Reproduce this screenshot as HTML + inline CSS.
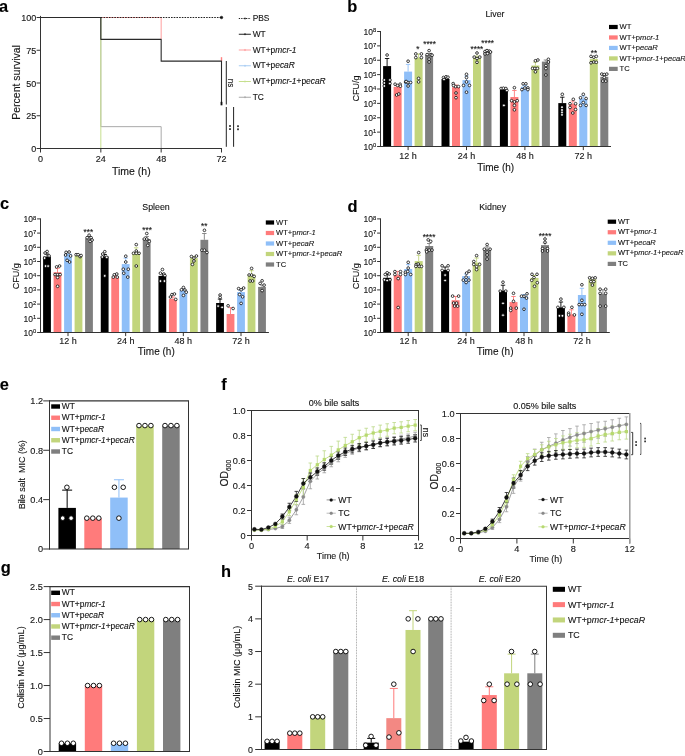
<!DOCTYPE html>
<html><head><meta charset="utf-8"><title>Figure</title>
<style>
html,body{margin:0;padding:0;background:#fff;overflow:hidden;}
svg{display:block;will-change:transform;}
text{font-family:"Liberation Sans",sans-serif;stroke:currentColor;stroke-width:0.12px;}
</style></head>
<body>
<svg width="685" height="756" viewBox="0 0 685 756">
<rect x="0" y="0" width="685" height="756" fill="#fff"/>
<text x="-0.9" y="11.6" font-size="16.4" font-weight="bold" fill="#000">a</text>
<polyline points="100.83,17.5 100.83,126.66 161.17,126.66 161.17,148.5" fill="none" stroke="#a9a9a9" stroke-width="1" stroke-linejoin="round"/>
<polyline points="100.83,17.5 100.83,148.5" fill="none" stroke="#c6df8e" stroke-width="1" stroke-linejoin="round"/>
<polyline points="100.83,17.5 161.17,17.5 161.17,39.34" fill="none" stroke="#ff9f9f" stroke-width="1" stroke-linejoin="round"/>
<line x1="221.5" y1="57.16" x2="221.5" y2="61.16" stroke="#ff8080" stroke-width="1.4"/>
<polyline points="40.5,17.5 100.83,17.5 100.83,39.34 161.17,39.34 161.17,61.16 221.5,61.16 221.5,104.84" fill="none" stroke="#2a2a2a" stroke-width="1.1" stroke-linejoin="round"/>
<rect x="220.6" y="101.84" width="1.8" height="3.5" fill="#111"/>
<line x1="100.83" y1="17.5" x2="221.5" y2="17.5" stroke="#222" stroke-width="1" stroke-dasharray="1.6 1.1"/>
<circle cx="221.5" cy="17.5" r="1.3" fill="#111" stroke="#111" stroke-width="0.5"/>
<line x1="40.5" y1="15.9" x2="40.5" y2="149" stroke="#333333" stroke-width="1"/>
<line x1="40" y1="148.5" x2="222" y2="148.5" stroke="#333333" stroke-width="1.1"/>
<line x1="36.6" y1="148.5" x2="40.5" y2="148.5" stroke="#333333" stroke-width="1"/>
<text x="36.2" y="152.1" font-size="9" text-anchor="end" fill="#1a1a1a">0</text>
<line x1="36.6" y1="115.75" x2="40.5" y2="115.75" stroke="#333333" stroke-width="1"/>
<text x="36.2" y="119.35" font-size="9" text-anchor="end" fill="#1a1a1a">25</text>
<line x1="36.6" y1="83" x2="40.5" y2="83" stroke="#333333" stroke-width="1"/>
<text x="36.2" y="86.6" font-size="9" text-anchor="end" fill="#1a1a1a">50</text>
<line x1="36.6" y1="50.25" x2="40.5" y2="50.25" stroke="#333333" stroke-width="1"/>
<text x="36.2" y="53.85" font-size="9" text-anchor="end" fill="#1a1a1a">75</text>
<line x1="36.6" y1="17.5" x2="40.5" y2="17.5" stroke="#333333" stroke-width="1"/>
<text x="36.2" y="21.1" font-size="9" text-anchor="end" fill="#1a1a1a">100</text>
<line x1="40.5" y1="148.5" x2="40.5" y2="152.5" stroke="#333333" stroke-width="1"/>
<text x="40.5" y="162.4" font-size="9" text-anchor="middle" fill="#1a1a1a">0</text>
<line x1="100.83" y1="148.5" x2="100.83" y2="152.5" stroke="#333333" stroke-width="1"/>
<text x="100.83" y="162.4" font-size="9" text-anchor="middle" fill="#1a1a1a">24</text>
<line x1="161.17" y1="148.5" x2="161.17" y2="152.5" stroke="#333333" stroke-width="1"/>
<text x="161.17" y="162.4" font-size="9" text-anchor="middle" fill="#1a1a1a">48</text>
<line x1="221.5" y1="148.5" x2="221.5" y2="152.5" stroke="#333333" stroke-width="1"/>
<text x="221.5" y="162.4" font-size="9" text-anchor="middle" fill="#1a1a1a">72</text>
<text x="131.3" y="174.6" font-size="10.5" text-anchor="middle" fill="#1a1a1a">Time (h)</text>
<text x="20.2" y="82.4" font-size="10.5" text-anchor="middle" fill="#1a1a1a" transform="rotate(-90 20.2 82.4)">Percent survival</text>
<line x1="226.3" y1="61" x2="226.3" y2="104.5" stroke="#222" stroke-width="1"/>
<text x="228" y="83" font-size="8.2" text-anchor="middle" fill="#1a1a1a" transform="rotate(90 228 83)">ns</text>
<line x1="226.3" y1="107" x2="226.3" y2="146.8" stroke="#222" stroke-width="1"/>
<line x1="233.6" y1="107" x2="233.6" y2="146.8" stroke="#222" stroke-width="1"/>
<rect x="229.1" y="125.1" width="1.8" height="1.8" fill="#333"/>
<rect x="229.1" y="128.2" width="1.8" height="1.8" fill="#333"/>
<rect x="237.1" y="125.3" width="1.8" height="1.8" fill="#333"/>
<rect x="237.1" y="128.4" width="1.8" height="1.8" fill="#333"/>
<line x1="238.8" y1="18.5" x2="250.9" y2="18.5" stroke="#222" stroke-width="1" stroke-dasharray="1.3 1.1"/>
<circle cx="245" cy="18.5" r="0.8" fill="#222" stroke="#222" stroke-width="0.3"/>
<text x="252.7" y="21" font-size="8.4" fill="#1a1a1a">PBS</text>
<line x1="238.8" y1="34.25" x2="250.9" y2="34.25" stroke="#222" stroke-width="1"/>
<circle cx="245" cy="34.25" r="0.8" fill="#222" stroke="#222" stroke-width="0.3"/>
<text x="252.7" y="36.75" font-size="8.4" fill="#1a1a1a">WT</text>
<line x1="238.8" y1="50" x2="250.9" y2="50" stroke="#ff9f9f" stroke-width="1"/>
<circle cx="245" cy="50" r="0.8" fill="#ff9f9f" stroke="#ff9f9f" stroke-width="0.3"/>
<text x="252.7" y="52.5" font-size="8.4" fill="#1a1a1a">WT+p<tspan font-style="italic">mcr-1</tspan></text>
<line x1="238.8" y1="65.75" x2="250.9" y2="65.75" stroke="#a9cdf3" stroke-width="1"/>
<circle cx="245" cy="65.75" r="0.8" fill="#a9cdf3" stroke="#a9cdf3" stroke-width="0.3"/>
<text x="252.7" y="68.25" font-size="8.4" fill="#1a1a1a">WT+p<tspan font-style="italic">ecaR</tspan></text>
<line x1="238.8" y1="81.5" x2="250.9" y2="81.5" stroke="#c6df8e" stroke-width="1"/>
<circle cx="245" cy="81.5" r="0.8" fill="#c6df8e" stroke="#c6df8e" stroke-width="0.3"/>
<text x="252.7" y="84" font-size="8.4" fill="#1a1a1a">WT+p<tspan font-style="italic">mcr-1</tspan>+p<tspan font-style="italic">ecaR</tspan></text>
<line x1="238.8" y1="97.25" x2="250.9" y2="97.25" stroke="#a9a9a9" stroke-width="1"/>
<circle cx="245" cy="97.25" r="0.8" fill="#a9a9a9" stroke="#a9a9a9" stroke-width="0.3"/>
<text x="252.7" y="99.75" font-size="8.4" fill="#1a1a1a">TC</text>
<text x="347.3" y="11.8" font-size="16.4" font-weight="bold" fill="#000">b</text>
<rect x="383.1" y="66.1" width="8" height="80.4" fill="#000000"/>
<rect x="393.6" y="86.8" width="8" height="59.7" fill="#ff7b7b"/>
<rect x="404.1" y="71.6" width="8" height="74.9" fill="#8fbff8"/>
<rect x="414.6" y="57.7" width="8" height="88.8" fill="#c2d57c"/>
<rect x="425.1" y="55" width="8" height="91.5" fill="#7f7f7f"/>
<rect x="441.5" y="79" width="8" height="67.5" fill="#000000"/>
<rect x="452" y="87.2" width="8" height="59.3" fill="#ff7b7b"/>
<rect x="462.5" y="80.1" width="8" height="66.4" fill="#8fbff8"/>
<rect x="473" y="57.1" width="8" height="89.4" fill="#c2d57c"/>
<rect x="483.5" y="51" width="8" height="95.5" fill="#7f7f7f"/>
<rect x="499.9" y="90" width="8" height="56.5" fill="#000000"/>
<rect x="510.4" y="97" width="8" height="49.5" fill="#ff7b7b"/>
<rect x="520.9" y="86.7" width="8" height="59.8" fill="#8fbff8"/>
<rect x="531.4" y="65.5" width="8" height="81" fill="#c2d57c"/>
<rect x="541.9" y="61.6" width="8" height="84.9" fill="#7f7f7f"/>
<rect x="558.3" y="103.1" width="8" height="43.4" fill="#000000"/>
<rect x="568.8" y="104" width="8" height="42.5" fill="#ff7b7b"/>
<rect x="579.3" y="98.4" width="8" height="48.1" fill="#8fbff8"/>
<rect x="589.8" y="58.9" width="8" height="87.6" fill="#c2d57c"/>
<rect x="600.3" y="76.8" width="8" height="69.7" fill="#7f7f7f"/>
<line x1="387.1" y1="66.1" x2="387.1" y2="58.5" stroke="#000000" stroke-width="0.9"/>
<line x1="384.9" y1="58.5" x2="389.3" y2="58.5" stroke="#000000" stroke-width="0.9"/>
<line x1="408.1" y1="71.6" x2="408.1" y2="64.4" stroke="#8fbff8" stroke-width="0.9"/>
<line x1="405.9" y1="64.4" x2="410.3" y2="64.4" stroke="#8fbff8" stroke-width="0.9"/>
<line x1="418.6" y1="57.7" x2="418.6" y2="54" stroke="#c2d57c" stroke-width="0.9"/>
<line x1="416.4" y1="54" x2="420.8" y2="54" stroke="#c2d57c" stroke-width="0.9"/>
<line x1="429.1" y1="55" x2="429.1" y2="53.5" stroke="#7f7f7f" stroke-width="0.9"/>
<line x1="426.9" y1="53.5" x2="431.3" y2="53.5" stroke="#7f7f7f" stroke-width="0.9"/>
<line x1="397.6" y1="86.8" x2="397.6" y2="85" stroke="#ff7b7b" stroke-width="0.9"/>
<line x1="395.4" y1="85" x2="399.8" y2="85" stroke="#ff7b7b" stroke-width="0.9"/>
<line x1="445.5" y1="79" x2="445.5" y2="77.5" stroke="#000000" stroke-width="0.9"/>
<line x1="443.3" y1="77.5" x2="447.7" y2="77.5" stroke="#000000" stroke-width="0.9"/>
<line x1="456" y1="87.2" x2="456" y2="85" stroke="#ff7b7b" stroke-width="0.9"/>
<line x1="453.8" y1="85" x2="458.2" y2="85" stroke="#ff7b7b" stroke-width="0.9"/>
<line x1="466.5" y1="80.1" x2="466.5" y2="76" stroke="#8fbff8" stroke-width="0.9"/>
<line x1="464.3" y1="76" x2="468.7" y2="76" stroke="#8fbff8" stroke-width="0.9"/>
<line x1="477" y1="57.1" x2="477" y2="56" stroke="#c2d57c" stroke-width="0.9"/>
<line x1="474.8" y1="56" x2="479.2" y2="56" stroke="#c2d57c" stroke-width="0.9"/>
<line x1="487.5" y1="51" x2="487.5" y2="50" stroke="#7f7f7f" stroke-width="0.9"/>
<line x1="485.3" y1="50" x2="489.7" y2="50" stroke="#7f7f7f" stroke-width="0.9"/>
<line x1="503.9" y1="90" x2="503.9" y2="89" stroke="#000000" stroke-width="0.9"/>
<line x1="501.7" y1="89" x2="506.1" y2="89" stroke="#000000" stroke-width="0.9"/>
<line x1="514.4" y1="97" x2="514.4" y2="90.5" stroke="#ff7b7b" stroke-width="0.9"/>
<line x1="512.2" y1="90.5" x2="516.6" y2="90.5" stroke="#ff7b7b" stroke-width="0.9"/>
<line x1="524.9" y1="86.7" x2="524.9" y2="85.5" stroke="#8fbff8" stroke-width="0.9"/>
<line x1="522.7" y1="85.5" x2="527.1" y2="85.5" stroke="#8fbff8" stroke-width="0.9"/>
<line x1="535.4" y1="65.5" x2="535.4" y2="62.2" stroke="#c2d57c" stroke-width="0.9"/>
<line x1="533.2" y1="62.2" x2="537.6" y2="62.2" stroke="#c2d57c" stroke-width="0.9"/>
<line x1="545.9" y1="61.6" x2="545.9" y2="60" stroke="#7f7f7f" stroke-width="0.9"/>
<line x1="543.7" y1="60" x2="548.1" y2="60" stroke="#7f7f7f" stroke-width="0.9"/>
<line x1="562.3" y1="103.1" x2="562.3" y2="97.2" stroke="#000000" stroke-width="0.9"/>
<line x1="560.1" y1="97.2" x2="564.5" y2="97.2" stroke="#000000" stroke-width="0.9"/>
<line x1="572.8" y1="104" x2="572.8" y2="101" stroke="#ff7b7b" stroke-width="0.9"/>
<line x1="570.6" y1="101" x2="575" y2="101" stroke="#ff7b7b" stroke-width="0.9"/>
<line x1="583.3" y1="98.4" x2="583.3" y2="96" stroke="#8fbff8" stroke-width="0.9"/>
<line x1="581.1" y1="96" x2="585.5" y2="96" stroke="#8fbff8" stroke-width="0.9"/>
<line x1="593.8" y1="58.9" x2="593.8" y2="57.5" stroke="#c2d57c" stroke-width="0.9"/>
<line x1="591.6" y1="57.5" x2="596" y2="57.5" stroke="#c2d57c" stroke-width="0.9"/>
<line x1="604.3" y1="76.8" x2="604.3" y2="75.5" stroke="#7f7f7f" stroke-width="0.9"/>
<line x1="602.1" y1="75.5" x2="606.5" y2="75.5" stroke="#7f7f7f" stroke-width="0.9"/>
<circle cx="387.1" cy="55" r="1.35" fill="#fff" stroke="#000" stroke-width="0.75"/>
<circle cx="384.3" cy="80" r="1.35" fill="#fff" stroke="#000" stroke-width="0.75"/>
<circle cx="389.9" cy="80" r="1.35" fill="#fff" stroke="#000" stroke-width="0.75"/>
<circle cx="384.3" cy="83" r="1.35" fill="#fff" stroke="#000" stroke-width="0.75"/>
<circle cx="389.9" cy="83.5" r="1.35" fill="#fff" stroke="#000" stroke-width="0.75"/>
<circle cx="384.3" cy="86" r="1.35" fill="#fff" stroke="#000" stroke-width="0.75"/>
<circle cx="395.1" cy="84.2" r="1.35" fill="#fff" stroke="#000" stroke-width="0.75"/>
<circle cx="397.6" cy="85.5" r="1.35" fill="#fff" stroke="#000" stroke-width="0.75"/>
<circle cx="400.1" cy="84.2" r="1.35" fill="#fff" stroke="#000" stroke-width="0.75"/>
<circle cx="400.4" cy="86.2" r="1.35" fill="#fff" stroke="#000" stroke-width="0.75"/>
<circle cx="396.6" cy="95" r="1.35" fill="#fff" stroke="#000" stroke-width="0.75"/>
<circle cx="398.8" cy="94" r="1.35" fill="#fff" stroke="#000" stroke-width="0.75"/>
<circle cx="408.1" cy="61.2" r="1.35" fill="#fff" stroke="#000" stroke-width="0.75"/>
<circle cx="405.6" cy="82" r="1.35" fill="#fff" stroke="#000" stroke-width="0.75"/>
<circle cx="407.9" cy="82.5" r="1.35" fill="#fff" stroke="#000" stroke-width="0.75"/>
<circle cx="410.6" cy="82.5" r="1.35" fill="#fff" stroke="#000" stroke-width="0.75"/>
<circle cx="408.1" cy="86" r="1.35" fill="#fff" stroke="#000" stroke-width="0.75"/>
<circle cx="406.1" cy="81.5" r="1.35" fill="#fff" stroke="#000" stroke-width="0.75"/>
<circle cx="415.8" cy="53.9" r="1.35" fill="#fff" stroke="#000" stroke-width="0.75"/>
<circle cx="421.4" cy="53.9" r="1.35" fill="#fff" stroke="#000" stroke-width="0.75"/>
<circle cx="415.8" cy="57.6" r="1.35" fill="#fff" stroke="#000" stroke-width="0.75"/>
<circle cx="421.4" cy="57.6" r="1.35" fill="#fff" stroke="#000" stroke-width="0.75"/>
<circle cx="418.6" cy="78.4" r="1.35" fill="#fff" stroke="#000" stroke-width="0.75"/>
<circle cx="418.6" cy="81.9" r="1.35" fill="#fff" stroke="#000" stroke-width="0.75"/>
<circle cx="429.1" cy="50.6" r="1.35" fill="#fff" stroke="#000" stroke-width="0.75"/>
<circle cx="427.1" cy="54.6" r="1.35" fill="#fff" stroke="#000" stroke-width="0.75"/>
<circle cx="431.1" cy="54.6" r="1.35" fill="#fff" stroke="#000" stroke-width="0.75"/>
<circle cx="429.1" cy="59.1" r="1.35" fill="#fff" stroke="#000" stroke-width="0.75"/>
<circle cx="429.1" cy="62" r="1.35" fill="#fff" stroke="#000" stroke-width="0.75"/>
<circle cx="432.1" cy="55.2" r="1.35" fill="#fff" stroke="#000" stroke-width="0.75"/>
<circle cx="443.5" cy="77.5" r="1.35" fill="#fff" stroke="#000" stroke-width="0.75"/>
<circle cx="446" cy="76.8" r="1.35" fill="#fff" stroke="#000" stroke-width="0.75"/>
<circle cx="448" cy="77.2" r="1.35" fill="#fff" stroke="#000" stroke-width="0.75"/>
<circle cx="444" cy="79.5" r="1.35" fill="#fff" stroke="#000" stroke-width="0.75"/>
<circle cx="453.2" cy="83.6" r="1.35" fill="#fff" stroke="#000" stroke-width="0.75"/>
<circle cx="455.5" cy="86.6" r="1.35" fill="#fff" stroke="#000" stroke-width="0.75"/>
<circle cx="458.5" cy="86.6" r="1.35" fill="#fff" stroke="#000" stroke-width="0.75"/>
<circle cx="456" cy="93" r="1.35" fill="#fff" stroke="#000" stroke-width="0.75"/>
<circle cx="456" cy="97.7" r="1.35" fill="#fff" stroke="#000" stroke-width="0.75"/>
<circle cx="453.5" cy="85.5" r="1.35" fill="#fff" stroke="#000" stroke-width="0.75"/>
<circle cx="466.5" cy="74.3" r="1.35" fill="#fff" stroke="#000" stroke-width="0.75"/>
<circle cx="466.5" cy="77.6" r="1.35" fill="#fff" stroke="#000" stroke-width="0.75"/>
<circle cx="466.5" cy="81.9" r="1.35" fill="#fff" stroke="#000" stroke-width="0.75"/>
<circle cx="463.5" cy="85.4" r="1.35" fill="#fff" stroke="#000" stroke-width="0.75"/>
<circle cx="469.5" cy="85.4" r="1.35" fill="#fff" stroke="#000" stroke-width="0.75"/>
<circle cx="466.5" cy="92.2" r="1.35" fill="#fff" stroke="#000" stroke-width="0.75"/>
<circle cx="477" cy="53" r="1.35" fill="#fff" stroke="#000" stroke-width="0.75"/>
<circle cx="474.2" cy="57.1" r="1.35" fill="#fff" stroke="#000" stroke-width="0.75"/>
<circle cx="477" cy="58.5" r="1.35" fill="#fff" stroke="#000" stroke-width="0.75"/>
<circle cx="479.8" cy="57.1" r="1.35" fill="#fff" stroke="#000" stroke-width="0.75"/>
<circle cx="477" cy="62.3" r="1.35" fill="#fff" stroke="#000" stroke-width="0.75"/>
<circle cx="485" cy="51.5" r="1.35" fill="#fff" stroke="#000" stroke-width="0.75"/>
<circle cx="487" cy="50.6" r="1.35" fill="#fff" stroke="#000" stroke-width="0.75"/>
<circle cx="489.5" cy="51.2" r="1.35" fill="#fff" stroke="#000" stroke-width="0.75"/>
<circle cx="485" cy="53.9" r="1.35" fill="#fff" stroke="#000" stroke-width="0.75"/>
<circle cx="487.5" cy="53.5" r="1.35" fill="#fff" stroke="#000" stroke-width="0.75"/>
<circle cx="490.5" cy="52" r="1.35" fill="#fff" stroke="#000" stroke-width="0.75"/>
<circle cx="501.1" cy="88.5" r="1.35" fill="#fff" stroke="#000" stroke-width="0.75"/>
<circle cx="503.4" cy="88.2" r="1.35" fill="#fff" stroke="#000" stroke-width="0.75"/>
<circle cx="505.9" cy="88.5" r="1.35" fill="#fff" stroke="#000" stroke-width="0.75"/>
<circle cx="506.9" cy="90.5" r="1.35" fill="#fff" stroke="#000" stroke-width="0.75"/>
<circle cx="503.9" cy="105.4" r="1.35" fill="#fff" stroke="#000" stroke-width="0.75"/>
<circle cx="514.4" cy="87.7" r="1.35" fill="#fff" stroke="#000" stroke-width="0.75"/>
<circle cx="511.6" cy="100.7" r="1.35" fill="#fff" stroke="#000" stroke-width="0.75"/>
<circle cx="514.4" cy="101.9" r="1.35" fill="#fff" stroke="#000" stroke-width="0.75"/>
<circle cx="517.2" cy="100.7" r="1.35" fill="#fff" stroke="#000" stroke-width="0.75"/>
<circle cx="514.4" cy="105.4" r="1.35" fill="#fff" stroke="#000" stroke-width="0.75"/>
<circle cx="514.4" cy="109.8" r="1.35" fill="#fff" stroke="#000" stroke-width="0.75"/>
<circle cx="523.1" cy="83.8" r="1.35" fill="#fff" stroke="#000" stroke-width="0.75"/>
<circle cx="525.9" cy="83.8" r="1.35" fill="#fff" stroke="#000" stroke-width="0.75"/>
<circle cx="521.9" cy="89.6" r="1.35" fill="#fff" stroke="#000" stroke-width="0.75"/>
<circle cx="524.9" cy="88" r="1.35" fill="#fff" stroke="#000" stroke-width="0.75"/>
<circle cx="527.9" cy="87.9" r="1.35" fill="#fff" stroke="#000" stroke-width="0.75"/>
<circle cx="527.9" cy="89.6" r="1.35" fill="#fff" stroke="#000" stroke-width="0.75"/>
<circle cx="535.4" cy="60.8" r="1.35" fill="#fff" stroke="#000" stroke-width="0.75"/>
<circle cx="537.9" cy="60" r="1.35" fill="#fff" stroke="#000" stroke-width="0.75"/>
<circle cx="532.6" cy="68.4" r="1.35" fill="#fff" stroke="#000" stroke-width="0.75"/>
<circle cx="534.9" cy="68.4" r="1.35" fill="#fff" stroke="#000" stroke-width="0.75"/>
<circle cx="537.4" cy="68.4" r="1.35" fill="#fff" stroke="#000" stroke-width="0.75"/>
<circle cx="535.4" cy="71.8" r="1.35" fill="#fff" stroke="#000" stroke-width="0.75"/>
<circle cx="548.4" cy="59.3" r="1.35" fill="#fff" stroke="#000" stroke-width="0.75"/>
<circle cx="548.4" cy="62" r="1.35" fill="#fff" stroke="#000" stroke-width="0.75"/>
<circle cx="545.9" cy="65.5" r="1.35" fill="#fff" stroke="#000" stroke-width="0.75"/>
<circle cx="545.9" cy="68.6" r="1.35" fill="#fff" stroke="#000" stroke-width="0.75"/>
<circle cx="545.9" cy="75" r="1.35" fill="#fff" stroke="#000" stroke-width="0.75"/>
<circle cx="562.3" cy="94.3" r="1.35" fill="#fff" stroke="#000" stroke-width="0.75"/>
<circle cx="573.3" cy="99.3" r="1.35" fill="#fff" stroke="#000" stroke-width="0.75"/>
<circle cx="570" cy="103.7" r="1.35" fill="#fff" stroke="#000" stroke-width="0.75"/>
<circle cx="575.6" cy="103.7" r="1.35" fill="#fff" stroke="#000" stroke-width="0.75"/>
<circle cx="570" cy="107.5" r="1.35" fill="#fff" stroke="#000" stroke-width="0.75"/>
<circle cx="575.6" cy="109.5" r="1.35" fill="#fff" stroke="#000" stroke-width="0.75"/>
<circle cx="572.8" cy="113" r="1.35" fill="#fff" stroke="#000" stroke-width="0.75"/>
<circle cx="583.3" cy="94.3" r="1.35" fill="#fff" stroke="#000" stroke-width="0.75"/>
<circle cx="580.5" cy="97.8" r="1.35" fill="#fff" stroke="#000" stroke-width="0.75"/>
<circle cx="586.1" cy="98.5" r="1.35" fill="#fff" stroke="#000" stroke-width="0.75"/>
<circle cx="583.3" cy="102.5" r="1.35" fill="#fff" stroke="#000" stroke-width="0.75"/>
<circle cx="580.5" cy="105.4" r="1.35" fill="#fff" stroke="#000" stroke-width="0.75"/>
<circle cx="586.1" cy="105.4" r="1.35" fill="#fff" stroke="#000" stroke-width="0.75"/>
<circle cx="591" cy="56.4" r="1.35" fill="#fff" stroke="#000" stroke-width="0.75"/>
<circle cx="593.8" cy="57.2" r="1.35" fill="#fff" stroke="#000" stroke-width="0.75"/>
<circle cx="596.3" cy="56.4" r="1.35" fill="#fff" stroke="#000" stroke-width="0.75"/>
<circle cx="591" cy="62.8" r="1.35" fill="#fff" stroke="#000" stroke-width="0.75"/>
<circle cx="593.8" cy="62" r="1.35" fill="#fff" stroke="#000" stroke-width="0.75"/>
<circle cx="596.3" cy="62.3" r="1.35" fill="#fff" stroke="#000" stroke-width="0.75"/>
<circle cx="601.8" cy="74.1" r="1.35" fill="#fff" stroke="#000" stroke-width="0.75"/>
<circle cx="604.3" cy="74.5" r="1.35" fill="#fff" stroke="#000" stroke-width="0.75"/>
<circle cx="606.8" cy="74.1" r="1.35" fill="#fff" stroke="#000" stroke-width="0.75"/>
<circle cx="604.3" cy="77.4" r="1.35" fill="#fff" stroke="#000" stroke-width="0.75"/>
<circle cx="602.8" cy="81.1" r="1.35" fill="#fff" stroke="#000" stroke-width="0.75"/>
<circle cx="605.8" cy="81.1" r="1.35" fill="#fff" stroke="#000" stroke-width="0.75"/>
<line x1="380.5" y1="31" x2="380.5" y2="147" stroke="#333333" stroke-width="1"/>
<line x1="380" y1="146.5" x2="611" y2="146.5" stroke="#333333" stroke-width="1.1"/>
<line x1="377.1" y1="146.5" x2="380.5" y2="146.5" stroke="#333333" stroke-width="1"/>
<text x="372.98" y="149.9" font-size="8.5" text-anchor="end" fill="#1a1a1a">10</text>
<text x="373.08" y="147.4" font-size="5.8" fill="#1a1a1a">0</text>
<line x1="377.1" y1="132.12" x2="380.5" y2="132.12" stroke="#333333" stroke-width="1"/>
<text x="372.98" y="135.53" font-size="8.5" text-anchor="end" fill="#1a1a1a">10</text>
<text x="373.08" y="133.03" font-size="5.8" fill="#1a1a1a">1</text>
<line x1="377.1" y1="117.75" x2="380.5" y2="117.75" stroke="#333333" stroke-width="1"/>
<text x="372.98" y="121.15" font-size="8.5" text-anchor="end" fill="#1a1a1a">10</text>
<text x="373.08" y="118.65" font-size="5.8" fill="#1a1a1a">2</text>
<line x1="377.1" y1="103.38" x2="380.5" y2="103.38" stroke="#333333" stroke-width="1"/>
<text x="372.98" y="106.78" font-size="8.5" text-anchor="end" fill="#1a1a1a">10</text>
<text x="373.08" y="104.28" font-size="5.8" fill="#1a1a1a">3</text>
<line x1="377.1" y1="89" x2="380.5" y2="89" stroke="#333333" stroke-width="1"/>
<text x="372.98" y="92.4" font-size="8.5" text-anchor="end" fill="#1a1a1a">10</text>
<text x="373.08" y="89.9" font-size="5.8" fill="#1a1a1a">4</text>
<line x1="377.1" y1="74.62" x2="380.5" y2="74.62" stroke="#333333" stroke-width="1"/>
<text x="372.98" y="78.03" font-size="8.5" text-anchor="end" fill="#1a1a1a">10</text>
<text x="373.08" y="75.53" font-size="5.8" fill="#1a1a1a">5</text>
<line x1="377.1" y1="60.25" x2="380.5" y2="60.25" stroke="#333333" stroke-width="1"/>
<text x="372.98" y="63.65" font-size="8.5" text-anchor="end" fill="#1a1a1a">10</text>
<text x="373.08" y="61.15" font-size="5.8" fill="#1a1a1a">6</text>
<line x1="377.1" y1="45.88" x2="380.5" y2="45.88" stroke="#333333" stroke-width="1"/>
<text x="372.98" y="49.27" font-size="8.5" text-anchor="end" fill="#1a1a1a">10</text>
<text x="373.08" y="46.77" font-size="5.8" fill="#1a1a1a">7</text>
<line x1="377.1" y1="31.5" x2="380.5" y2="31.5" stroke="#333333" stroke-width="1"/>
<text x="372.98" y="34.9" font-size="8.5" text-anchor="end" fill="#1a1a1a">10</text>
<text x="373.08" y="32.4" font-size="5.8" fill="#1a1a1a">8</text>
<line x1="408.1" y1="146.5" x2="408.1" y2="150.1" stroke="#333333" stroke-width="1"/>
<text x="408.1" y="159.1" font-size="9" text-anchor="middle" fill="#1a1a1a">12 h</text>
<line x1="466.5" y1="146.5" x2="466.5" y2="150.1" stroke="#333333" stroke-width="1"/>
<text x="466.5" y="159.1" font-size="9" text-anchor="middle" fill="#1a1a1a">24 h</text>
<line x1="524.9" y1="146.5" x2="524.9" y2="150.1" stroke="#333333" stroke-width="1"/>
<text x="524.9" y="159.1" font-size="9" text-anchor="middle" fill="#1a1a1a">48 h</text>
<line x1="583.3" y1="146.5" x2="583.3" y2="150.1" stroke="#333333" stroke-width="1"/>
<text x="583.3" y="159.1" font-size="9" text-anchor="middle" fill="#1a1a1a">72 h</text>
<text x="495.7" y="170.7" font-size="10" text-anchor="middle" fill="#1a1a1a">Time (h)</text>
<text x="359.2" y="88.6" font-size="9" text-anchor="middle" fill="#1a1a1a" transform="rotate(-90 359.2 88.6)">CFU/g</text>
<text x="495" y="16.6" font-size="8.8" text-anchor="middle" fill="#1a1a1a">Liver</text>
<text x="417.9" y="52.4" font-size="8.2" text-anchor="middle" fill="#222">*</text>
<text x="429.6" y="47.4" font-size="8.2" text-anchor="middle" fill="#222">****</text>
<text x="476.9" y="51.9" font-size="8.2" text-anchor="middle" fill="#222">****</text>
<text x="487.7" y="46.2" font-size="8.2" text-anchor="middle" fill="#222">****</text>
<text x="593.9" y="56.3" font-size="8.2" text-anchor="middle" fill="#222">**</text>
<rect x="609" y="24.9" width="8.7" height="4.2" fill="#000000"/>
<text x="619.6" y="29.1" font-size="7.6" fill="#1a1a1a">WT</text>
<rect x="609" y="35.37" width="8.7" height="4.2" fill="#ff7b7b"/>
<text x="619.6" y="39.57" font-size="7.6" fill="#1a1a1a">WT+p<tspan font-style="italic">mcr-1</tspan></text>
<rect x="609" y="45.84" width="8.7" height="4.2" fill="#8fbff8"/>
<text x="619.6" y="50.04" font-size="7.6" fill="#1a1a1a">WT+p<tspan font-style="italic">ecaR</tspan></text>
<rect x="609" y="56.31" width="8.7" height="4.2" fill="#c2d57c"/>
<text x="619.6" y="60.51" font-size="7.6" fill="#1a1a1a">WT+p<tspan font-style="italic">mcr-1</tspan>+p<tspan font-style="italic">ecaR</tspan></text>
<rect x="609" y="66.78" width="8.7" height="4.2" fill="#7f7f7f"/>
<text x="619.6" y="70.98" font-size="7.6" fill="#1a1a1a">TC</text>
<circle cx="562" cy="107.2" r="0.9" fill="#fff" stroke="#fff" stroke-width="0.2"/>
<circle cx="562" cy="110" r="0.9" fill="#fff" stroke="#fff" stroke-width="0.2"/>
<circle cx="562" cy="112.4" r="0.9" fill="#fff" stroke="#fff" stroke-width="0.2"/>
<circle cx="562" cy="114.8" r="0.9" fill="#fff" stroke="#fff" stroke-width="0.2"/>
<text x="-0.1" y="209.4" font-size="16.4" font-weight="bold" fill="#000">c</text>
<rect x="43.1" y="256.6" width="7.8" height="75.9" fill="#000000"/>
<rect x="53.6" y="272.2" width="7.8" height="60.3" fill="#ff7b7b"/>
<rect x="64.1" y="253.7" width="7.8" height="78.8" fill="#8fbff8"/>
<rect x="74.6" y="255.9" width="7.8" height="76.6" fill="#c2d57c"/>
<rect x="85.1" y="238.4" width="7.8" height="94.1" fill="#7f7f7f"/>
<rect x="100.77" y="256.5" width="7.8" height="76" fill="#000000"/>
<rect x="111.27" y="277.9" width="7.8" height="54.6" fill="#ff7b7b"/>
<rect x="121.77" y="264.1" width="7.8" height="68.4" fill="#8fbff8"/>
<rect x="132.27" y="252.1" width="7.8" height="80.4" fill="#c2d57c"/>
<rect x="142.77" y="239" width="7.8" height="93.5" fill="#7f7f7f"/>
<rect x="158.44" y="275.9" width="7.8" height="56.6" fill="#000000"/>
<rect x="168.94" y="298.9" width="7.8" height="33.6" fill="#ff7b7b"/>
<rect x="179.44" y="290.6" width="7.8" height="41.9" fill="#8fbff8"/>
<rect x="189.94" y="258.1" width="7.8" height="74.4" fill="#c2d57c"/>
<rect x="200.44" y="239.8" width="7.8" height="92.7" fill="#7f7f7f"/>
<rect x="216.11" y="303" width="7.8" height="29.5" fill="#000000"/>
<rect x="226.61" y="314" width="7.8" height="18.5" fill="#ff7b7b"/>
<rect x="237.11" y="292.1" width="7.8" height="40.4" fill="#8fbff8"/>
<rect x="247.61" y="274.6" width="7.8" height="57.9" fill="#c2d57c"/>
<rect x="258.11" y="286.9" width="7.8" height="45.6" fill="#7f7f7f"/>
<line x1="47" y1="256.6" x2="47" y2="254" stroke="#000000" stroke-width="0.9"/>
<line x1="44.8" y1="254" x2="49.2" y2="254" stroke="#000000" stroke-width="0.9"/>
<line x1="57.5" y1="272.2" x2="57.5" y2="268.3" stroke="#ff7b7b" stroke-width="0.9"/>
<line x1="55.3" y1="268.3" x2="59.7" y2="268.3" stroke="#ff7b7b" stroke-width="0.9"/>
<line x1="68" y1="253.7" x2="68" y2="252" stroke="#8fbff8" stroke-width="0.9"/>
<line x1="65.8" y1="252" x2="70.2" y2="252" stroke="#8fbff8" stroke-width="0.9"/>
<line x1="78.5" y1="255.9" x2="78.5" y2="254.5" stroke="#c2d57c" stroke-width="0.9"/>
<line x1="76.3" y1="254.5" x2="80.7" y2="254.5" stroke="#c2d57c" stroke-width="0.9"/>
<line x1="89" y1="238.4" x2="89" y2="236.5" stroke="#7f7f7f" stroke-width="0.9"/>
<line x1="86.8" y1="236.5" x2="91.2" y2="236.5" stroke="#7f7f7f" stroke-width="0.9"/>
<line x1="104.67" y1="256.5" x2="104.67" y2="254.5" stroke="#000000" stroke-width="0.9"/>
<line x1="102.47" y1="254.5" x2="106.87" y2="254.5" stroke="#000000" stroke-width="0.9"/>
<line x1="115.17" y1="277.9" x2="115.17" y2="276" stroke="#ff7b7b" stroke-width="0.9"/>
<line x1="112.97" y1="276" x2="117.37" y2="276" stroke="#ff7b7b" stroke-width="0.9"/>
<line x1="125.67" y1="264.1" x2="125.67" y2="258.1" stroke="#8fbff8" stroke-width="0.9"/>
<line x1="123.47" y1="258.1" x2="127.87" y2="258.1" stroke="#8fbff8" stroke-width="0.9"/>
<line x1="136.17" y1="252.1" x2="136.17" y2="247.8" stroke="#c2d57c" stroke-width="0.9"/>
<line x1="133.97" y1="247.8" x2="138.37" y2="247.8" stroke="#c2d57c" stroke-width="0.9"/>
<line x1="146.67" y1="239" x2="146.67" y2="236.5" stroke="#7f7f7f" stroke-width="0.9"/>
<line x1="144.47" y1="236.5" x2="148.87" y2="236.5" stroke="#7f7f7f" stroke-width="0.9"/>
<line x1="162.34" y1="275.9" x2="162.34" y2="273.5" stroke="#000000" stroke-width="0.9"/>
<line x1="160.14" y1="273.5" x2="164.54" y2="273.5" stroke="#000000" stroke-width="0.9"/>
<line x1="172.84" y1="298.9" x2="172.84" y2="297" stroke="#ff7b7b" stroke-width="0.9"/>
<line x1="170.64" y1="297" x2="175.04" y2="297" stroke="#ff7b7b" stroke-width="0.9"/>
<line x1="183.34" y1="290.6" x2="183.34" y2="289" stroke="#8fbff8" stroke-width="0.9"/>
<line x1="181.14" y1="289" x2="185.54" y2="289" stroke="#8fbff8" stroke-width="0.9"/>
<line x1="193.84" y1="258.1" x2="193.84" y2="256.5" stroke="#c2d57c" stroke-width="0.9"/>
<line x1="191.64" y1="256.5" x2="196.04" y2="256.5" stroke="#c2d57c" stroke-width="0.9"/>
<line x1="204.34" y1="239.8" x2="204.34" y2="233.5" stroke="#7f7f7f" stroke-width="0.9"/>
<line x1="202.14" y1="233.5" x2="206.54" y2="233.5" stroke="#7f7f7f" stroke-width="0.9"/>
<line x1="220.01" y1="303" x2="220.01" y2="299.1" stroke="#000000" stroke-width="0.9"/>
<line x1="217.81" y1="299.1" x2="222.21" y2="299.1" stroke="#000000" stroke-width="0.9"/>
<line x1="230.51" y1="314" x2="230.51" y2="307.6" stroke="#ff7b7b" stroke-width="0.9"/>
<line x1="228.31" y1="307.6" x2="232.71" y2="307.6" stroke="#ff7b7b" stroke-width="0.9"/>
<line x1="241.01" y1="292.1" x2="241.01" y2="290.5" stroke="#8fbff8" stroke-width="0.9"/>
<line x1="238.81" y1="290.5" x2="243.21" y2="290.5" stroke="#8fbff8" stroke-width="0.9"/>
<line x1="251.51" y1="274.6" x2="251.51" y2="270.7" stroke="#c2d57c" stroke-width="0.9"/>
<line x1="249.31" y1="270.7" x2="253.71" y2="270.7" stroke="#c2d57c" stroke-width="0.9"/>
<line x1="262.01" y1="286.9" x2="262.01" y2="285" stroke="#7f7f7f" stroke-width="0.9"/>
<line x1="259.81" y1="285" x2="264.21" y2="285" stroke="#7f7f7f" stroke-width="0.9"/>
<circle cx="47.1" cy="251.5" r="1.35" fill="#fff" stroke="#000" stroke-width="0.75"/>
<circle cx="45.1" cy="253" r="1.35" fill="#fff" stroke="#000" stroke-width="0.75"/>
<circle cx="49.1" cy="255.9" r="1.35" fill="#fff" stroke="#000" stroke-width="0.75"/>
<circle cx="44.6" cy="258.1" r="1.35" fill="#fff" stroke="#000" stroke-width="0.75"/>
<circle cx="45.6" cy="266.1" r="1.35" fill="#fff" stroke="#000" stroke-width="0.75"/>
<circle cx="48.1" cy="266.1" r="1.35" fill="#fff" stroke="#000" stroke-width="0.75"/>
<circle cx="56.6" cy="266.9" r="1.35" fill="#fff" stroke="#000" stroke-width="0.75"/>
<circle cx="59.6" cy="266" r="1.35" fill="#fff" stroke="#000" stroke-width="0.75"/>
<circle cx="55.1" cy="274.6" r="1.35" fill="#fff" stroke="#000" stroke-width="0.75"/>
<circle cx="57.6" cy="274.6" r="1.35" fill="#fff" stroke="#000" stroke-width="0.75"/>
<circle cx="60.1" cy="274.6" r="1.35" fill="#fff" stroke="#000" stroke-width="0.75"/>
<circle cx="57.6" cy="277.5" r="1.35" fill="#fff" stroke="#000" stroke-width="0.75"/>
<circle cx="57.6" cy="286.3" r="1.35" fill="#fff" stroke="#000" stroke-width="0.75"/>
<circle cx="66.1" cy="252.3" r="1.35" fill="#fff" stroke="#000" stroke-width="0.75"/>
<circle cx="69.1" cy="252" r="1.35" fill="#fff" stroke="#000" stroke-width="0.75"/>
<circle cx="70.6" cy="255.9" r="1.35" fill="#fff" stroke="#000" stroke-width="0.75"/>
<circle cx="67.1" cy="260.3" r="1.35" fill="#fff" stroke="#000" stroke-width="0.75"/>
<circle cx="69.6" cy="262" r="1.35" fill="#fff" stroke="#000" stroke-width="0.75"/>
<circle cx="65.6" cy="255" r="1.35" fill="#fff" stroke="#000" stroke-width="0.75"/>
<circle cx="76.1" cy="254.7" r="1.35" fill="#fff" stroke="#000" stroke-width="0.75"/>
<circle cx="78.1" cy="254.7" r="1.35" fill="#fff" stroke="#000" stroke-width="0.75"/>
<circle cx="80.1" cy="256.6" r="1.35" fill="#fff" stroke="#000" stroke-width="0.75"/>
<circle cx="81.1" cy="255.5" r="1.35" fill="#fff" stroke="#000" stroke-width="0.75"/>
<circle cx="89.1" cy="235.2" r="1.35" fill="#fff" stroke="#000" stroke-width="0.75"/>
<circle cx="87.1" cy="237.7" r="1.35" fill="#fff" stroke="#000" stroke-width="0.75"/>
<circle cx="91.1" cy="237.7" r="1.35" fill="#fff" stroke="#000" stroke-width="0.75"/>
<circle cx="90.1" cy="241.3" r="1.35" fill="#fff" stroke="#000" stroke-width="0.75"/>
<circle cx="92.1" cy="240" r="1.35" fill="#fff" stroke="#000" stroke-width="0.75"/>
<circle cx="104.77" cy="251.7" r="1.35" fill="#fff" stroke="#000" stroke-width="0.75"/>
<circle cx="102.77" cy="254" r="1.35" fill="#fff" stroke="#000" stroke-width="0.75"/>
<circle cx="106.77" cy="257.3" r="1.35" fill="#fff" stroke="#000" stroke-width="0.75"/>
<circle cx="102.27" cy="257" r="1.35" fill="#fff" stroke="#000" stroke-width="0.75"/>
<circle cx="104.77" cy="275.9" r="1.35" fill="#fff" stroke="#000" stroke-width="0.75"/>
<circle cx="114.27" cy="274.8" r="1.35" fill="#fff" stroke="#000" stroke-width="0.75"/>
<circle cx="116.77" cy="274" r="1.35" fill="#fff" stroke="#000" stroke-width="0.75"/>
<circle cx="117.27" cy="277.1" r="1.35" fill="#fff" stroke="#000" stroke-width="0.75"/>
<circle cx="113.27" cy="277.1" r="1.35" fill="#fff" stroke="#000" stroke-width="0.75"/>
<circle cx="125.77" cy="256.2" r="1.35" fill="#fff" stroke="#000" stroke-width="0.75"/>
<circle cx="125.77" cy="262" r="1.35" fill="#fff" stroke="#000" stroke-width="0.75"/>
<circle cx="123.27" cy="269.2" r="1.35" fill="#fff" stroke="#000" stroke-width="0.75"/>
<circle cx="128.27" cy="269.2" r="1.35" fill="#fff" stroke="#000" stroke-width="0.75"/>
<circle cx="123.77" cy="273.2" r="1.35" fill="#fff" stroke="#000" stroke-width="0.75"/>
<circle cx="127.77" cy="277.1" r="1.35" fill="#fff" stroke="#000" stroke-width="0.75"/>
<circle cx="136.27" cy="244.6" r="1.35" fill="#fff" stroke="#000" stroke-width="0.75"/>
<circle cx="136.27" cy="251" r="1.35" fill="#fff" stroke="#000" stroke-width="0.75"/>
<circle cx="133.47" cy="253.3" r="1.35" fill="#fff" stroke="#000" stroke-width="0.75"/>
<circle cx="136.27" cy="253.3" r="1.35" fill="#fff" stroke="#000" stroke-width="0.75"/>
<circle cx="139.07" cy="253.3" r="1.35" fill="#fff" stroke="#000" stroke-width="0.75"/>
<circle cx="136.27" cy="266" r="1.35" fill="#fff" stroke="#000" stroke-width="0.75"/>
<circle cx="146.77" cy="233.5" r="1.35" fill="#fff" stroke="#000" stroke-width="0.75"/>
<circle cx="144.27" cy="239" r="1.35" fill="#fff" stroke="#000" stroke-width="0.75"/>
<circle cx="146.77" cy="239" r="1.35" fill="#fff" stroke="#000" stroke-width="0.75"/>
<circle cx="149.27" cy="241.4" r="1.35" fill="#fff" stroke="#000" stroke-width="0.75"/>
<circle cx="147.77" cy="245.4" r="1.35" fill="#fff" stroke="#000" stroke-width="0.75"/>
<circle cx="162.44" cy="269.5" r="1.35" fill="#fff" stroke="#000" stroke-width="0.75"/>
<circle cx="160.44" cy="273.2" r="1.35" fill="#fff" stroke="#000" stroke-width="0.75"/>
<circle cx="163.94" cy="274" r="1.35" fill="#fff" stroke="#000" stroke-width="0.75"/>
<circle cx="164.94" cy="275.6" r="1.35" fill="#fff" stroke="#000" stroke-width="0.75"/>
<circle cx="160.44" cy="281.1" r="1.35" fill="#fff" stroke="#000" stroke-width="0.75"/>
<circle cx="164.44" cy="281.1" r="1.35" fill="#fff" stroke="#000" stroke-width="0.75"/>
<circle cx="171.94" cy="294.6" r="1.35" fill="#fff" stroke="#000" stroke-width="0.75"/>
<circle cx="174.44" cy="294" r="1.35" fill="#fff" stroke="#000" stroke-width="0.75"/>
<circle cx="170.44" cy="297" r="1.35" fill="#fff" stroke="#000" stroke-width="0.75"/>
<circle cx="175.74" cy="299.4" r="1.35" fill="#fff" stroke="#000" stroke-width="0.75"/>
<circle cx="183.44" cy="287.5" r="1.35" fill="#fff" stroke="#000" stroke-width="0.75"/>
<circle cx="181.44" cy="289.8" r="1.35" fill="#fff" stroke="#000" stroke-width="0.75"/>
<circle cx="184.94" cy="290" r="1.35" fill="#fff" stroke="#000" stroke-width="0.75"/>
<circle cx="186.24" cy="292.2" r="1.35" fill="#fff" stroke="#000" stroke-width="0.75"/>
<circle cx="183.44" cy="295.4" r="1.35" fill="#fff" stroke="#000" stroke-width="0.75"/>
<circle cx="191.44" cy="256.5" r="1.35" fill="#fff" stroke="#000" stroke-width="0.75"/>
<circle cx="193.94" cy="258.1" r="1.35" fill="#fff" stroke="#000" stroke-width="0.75"/>
<circle cx="196.44" cy="256" r="1.35" fill="#fff" stroke="#000" stroke-width="0.75"/>
<circle cx="193.94" cy="261" r="1.35" fill="#fff" stroke="#000" stroke-width="0.75"/>
<circle cx="192.44" cy="264.4" r="1.35" fill="#fff" stroke="#000" stroke-width="0.75"/>
<circle cx="204.44" cy="230.3" r="1.35" fill="#fff" stroke="#000" stroke-width="0.75"/>
<circle cx="201.94" cy="250.2" r="1.35" fill="#fff" stroke="#000" stroke-width="0.75"/>
<circle cx="204.44" cy="250.2" r="1.35" fill="#fff" stroke="#000" stroke-width="0.75"/>
<circle cx="206.94" cy="252.5" r="1.35" fill="#fff" stroke="#000" stroke-width="0.75"/>
<circle cx="220.11" cy="295" r="1.35" fill="#fff" stroke="#000" stroke-width="0.75"/>
<circle cx="220.11" cy="297.5" r="1.35" fill="#fff" stroke="#000" stroke-width="0.75"/>
<circle cx="218.11" cy="306.1" r="1.35" fill="#fff" stroke="#000" stroke-width="0.75"/>
<circle cx="222.11" cy="307.3" r="1.35" fill="#fff" stroke="#000" stroke-width="0.75"/>
<circle cx="228.11" cy="305.8" r="1.35" fill="#fff" stroke="#000" stroke-width="0.75"/>
<circle cx="233.11" cy="308.5" r="1.35" fill="#fff" stroke="#000" stroke-width="0.75"/>
<circle cx="238.61" cy="288.6" r="1.35" fill="#fff" stroke="#000" stroke-width="0.75"/>
<circle cx="243.61" cy="288" r="1.35" fill="#fff" stroke="#000" stroke-width="0.75"/>
<circle cx="241.11" cy="289.8" r="1.35" fill="#fff" stroke="#000" stroke-width="0.75"/>
<circle cx="239.61" cy="294.5" r="1.35" fill="#fff" stroke="#000" stroke-width="0.75"/>
<circle cx="242.61" cy="296.8" r="1.35" fill="#fff" stroke="#000" stroke-width="0.75"/>
<circle cx="241.11" cy="303.4" r="1.35" fill="#fff" stroke="#000" stroke-width="0.75"/>
<circle cx="251.61" cy="268.4" r="1.35" fill="#fff" stroke="#000" stroke-width="0.75"/>
<circle cx="249.11" cy="275" r="1.35" fill="#fff" stroke="#000" stroke-width="0.75"/>
<circle cx="251.61" cy="275" r="1.35" fill="#fff" stroke="#000" stroke-width="0.75"/>
<circle cx="254.11" cy="276.4" r="1.35" fill="#fff" stroke="#000" stroke-width="0.75"/>
<circle cx="250.11" cy="281" r="1.35" fill="#fff" stroke="#000" stroke-width="0.75"/>
<circle cx="252.61" cy="281" r="1.35" fill="#fff" stroke="#000" stroke-width="0.75"/>
<circle cx="262.11" cy="280.8" r="1.35" fill="#fff" stroke="#000" stroke-width="0.75"/>
<circle cx="260.11" cy="283.4" r="1.35" fill="#fff" stroke="#000" stroke-width="0.75"/>
<circle cx="264.11" cy="285.1" r="1.35" fill="#fff" stroke="#000" stroke-width="0.75"/>
<circle cx="262.11" cy="290.6" r="1.35" fill="#fff" stroke="#000" stroke-width="0.75"/>
<line x1="40.5" y1="218.4" x2="40.5" y2="333" stroke="#333333" stroke-width="1"/>
<line x1="40" y1="332.5" x2="268.9" y2="332.5" stroke="#333333" stroke-width="1.1"/>
<line x1="37.1" y1="332.5" x2="40.5" y2="332.5" stroke="#333333" stroke-width="1"/>
<text x="32.98" y="335.9" font-size="8.5" text-anchor="end" fill="#1a1a1a">10</text>
<text x="33.08" y="333.4" font-size="5.8" fill="#1a1a1a">0</text>
<line x1="37.1" y1="318.3" x2="40.5" y2="318.3" stroke="#333333" stroke-width="1"/>
<text x="32.98" y="321.7" font-size="8.5" text-anchor="end" fill="#1a1a1a">10</text>
<text x="33.08" y="319.2" font-size="5.8" fill="#1a1a1a">1</text>
<line x1="37.1" y1="304.1" x2="40.5" y2="304.1" stroke="#333333" stroke-width="1"/>
<text x="32.98" y="307.5" font-size="8.5" text-anchor="end" fill="#1a1a1a">10</text>
<text x="33.08" y="305" font-size="5.8" fill="#1a1a1a">2</text>
<line x1="37.1" y1="289.9" x2="40.5" y2="289.9" stroke="#333333" stroke-width="1"/>
<text x="32.98" y="293.3" font-size="8.5" text-anchor="end" fill="#1a1a1a">10</text>
<text x="33.08" y="290.8" font-size="5.8" fill="#1a1a1a">3</text>
<line x1="37.1" y1="275.7" x2="40.5" y2="275.7" stroke="#333333" stroke-width="1"/>
<text x="32.98" y="279.1" font-size="8.5" text-anchor="end" fill="#1a1a1a">10</text>
<text x="33.08" y="276.6" font-size="5.8" fill="#1a1a1a">4</text>
<line x1="37.1" y1="261.5" x2="40.5" y2="261.5" stroke="#333333" stroke-width="1"/>
<text x="32.98" y="264.9" font-size="8.5" text-anchor="end" fill="#1a1a1a">10</text>
<text x="33.08" y="262.4" font-size="5.8" fill="#1a1a1a">5</text>
<line x1="37.1" y1="247.3" x2="40.5" y2="247.3" stroke="#333333" stroke-width="1"/>
<text x="32.98" y="250.7" font-size="8.5" text-anchor="end" fill="#1a1a1a">10</text>
<text x="33.08" y="248.2" font-size="5.8" fill="#1a1a1a">6</text>
<line x1="37.1" y1="233.1" x2="40.5" y2="233.1" stroke="#333333" stroke-width="1"/>
<text x="32.98" y="236.5" font-size="8.5" text-anchor="end" fill="#1a1a1a">10</text>
<text x="33.08" y="234" font-size="5.8" fill="#1a1a1a">7</text>
<line x1="37.1" y1="218.9" x2="40.5" y2="218.9" stroke="#333333" stroke-width="1"/>
<text x="32.98" y="222.3" font-size="8.5" text-anchor="end" fill="#1a1a1a">10</text>
<text x="33.08" y="219.8" font-size="5.8" fill="#1a1a1a">8</text>
<line x1="68" y1="332.5" x2="68" y2="336.1" stroke="#333333" stroke-width="1"/>
<text x="68" y="344.1" font-size="9" text-anchor="middle" fill="#1a1a1a">12 h</text>
<line x1="125.67" y1="332.5" x2="125.67" y2="336.1" stroke="#333333" stroke-width="1"/>
<text x="125.67" y="344.1" font-size="9" text-anchor="middle" fill="#1a1a1a">24 h</text>
<line x1="183.34" y1="332.5" x2="183.34" y2="336.1" stroke="#333333" stroke-width="1"/>
<text x="183.34" y="344.1" font-size="9" text-anchor="middle" fill="#1a1a1a">48 h</text>
<line x1="241.01" y1="332.5" x2="241.01" y2="336.1" stroke="#333333" stroke-width="1"/>
<text x="241.01" y="344.1" font-size="9" text-anchor="middle" fill="#1a1a1a">72 h</text>
<text x="156.3" y="355.3" font-size="10" text-anchor="middle" fill="#1a1a1a">Time (h)</text>
<text x="19.5" y="276.3" font-size="9" text-anchor="middle" fill="#1a1a1a" transform="rotate(-90 19.5 276.3)">CFU/g</text>
<text x="156" y="210.4" font-size="8.8" text-anchor="middle" fill="#1a1a1a">Spleen</text>
<text x="88.3" y="234.6" font-size="8.2" text-anchor="middle" fill="#222">***</text>
<text x="147.1" y="232.6" font-size="8.2" text-anchor="middle" fill="#222">***</text>
<text x="204.3" y="229" font-size="8.2" text-anchor="middle" fill="#222">**</text>
<rect x="265.8" y="220.4" width="8.3" height="4.2" fill="#000000"/>
<text x="276" y="224.6" font-size="7.6" fill="#1a1a1a">WT</text>
<rect x="265.8" y="230.9" width="8.3" height="4.2" fill="#ff7b7b"/>
<text x="276" y="235.1" font-size="7.6" fill="#1a1a1a">WT+p<tspan font-style="italic">mcr-1</tspan></text>
<rect x="265.8" y="241.4" width="8.3" height="4.2" fill="#8fbff8"/>
<text x="276" y="245.6" font-size="7.6" fill="#1a1a1a">WT+p<tspan font-style="italic">ecaR</tspan></text>
<rect x="265.8" y="251.9" width="8.3" height="4.2" fill="#c2d57c"/>
<text x="276" y="256.1" font-size="7.6" fill="#1a1a1a">WT+p<tspan font-style="italic">mcr-1</tspan>+p<tspan font-style="italic">ecaR</tspan></text>
<rect x="265.8" y="262.4" width="8.3" height="4.2" fill="#7f7f7f"/>
<text x="276" y="266.6" font-size="7.6" fill="#1a1a1a">TC</text>
<text x="347.6" y="211.7" font-size="16.4" font-weight="bold" fill="#000">d</text>
<rect x="383.2" y="277.8" width="8" height="54.7" fill="#000000"/>
<rect x="393.7" y="275.1" width="8" height="57.4" fill="#ff7b7b"/>
<rect x="404.2" y="269" width="8" height="63.5" fill="#8fbff8"/>
<rect x="414.7" y="261.1" width="8" height="71.4" fill="#c2d57c"/>
<rect x="425.2" y="246" width="8" height="86.5" fill="#7f7f7f"/>
<rect x="441.1" y="270" width="8" height="62.5" fill="#000000"/>
<rect x="451.6" y="300.2" width="8" height="32.3" fill="#ff7b7b"/>
<rect x="462.1" y="276.1" width="8" height="56.4" fill="#8fbff8"/>
<rect x="472.6" y="262.6" width="8" height="69.9" fill="#c2d57c"/>
<rect x="483.1" y="248.6" width="8" height="83.9" fill="#7f7f7f"/>
<rect x="499" y="290.6" width="8" height="41.9" fill="#000000"/>
<rect x="509.5" y="302.1" width="8" height="30.4" fill="#ff7b7b"/>
<rect x="520" y="296.2" width="8" height="36.3" fill="#8fbff8"/>
<rect x="530.5" y="277.9" width="8" height="54.6" fill="#c2d57c"/>
<rect x="541" y="245.1" width="8" height="87.4" fill="#7f7f7f"/>
<rect x="556.9" y="307.3" width="8" height="25.2" fill="#000000"/>
<rect x="567.4" y="314.3" width="8" height="18.2" fill="#ff7b7b"/>
<rect x="577.9" y="295" width="8" height="37.5" fill="#8fbff8"/>
<rect x="588.4" y="279.3" width="8" height="53.2" fill="#c2d57c"/>
<rect x="598.9" y="293.9" width="8" height="38.6" fill="#7f7f7f"/>
<line x1="387.2" y1="277.8" x2="387.2" y2="274.5" stroke="#000000" stroke-width="0.9"/>
<line x1="385" y1="274.5" x2="389.4" y2="274.5" stroke="#000000" stroke-width="0.9"/>
<line x1="397.7" y1="275.1" x2="397.7" y2="271.4" stroke="#ff7b7b" stroke-width="0.9"/>
<line x1="395.5" y1="271.4" x2="399.9" y2="271.4" stroke="#ff7b7b" stroke-width="0.9"/>
<line x1="408.2" y1="269" x2="408.2" y2="264.6" stroke="#8fbff8" stroke-width="0.9"/>
<line x1="406" y1="264.6" x2="410.4" y2="264.6" stroke="#8fbff8" stroke-width="0.9"/>
<line x1="418.7" y1="261.1" x2="418.7" y2="255.3" stroke="#c2d57c" stroke-width="0.9"/>
<line x1="416.5" y1="255.3" x2="420.9" y2="255.3" stroke="#c2d57c" stroke-width="0.9"/>
<line x1="429.2" y1="246" x2="429.2" y2="243.5" stroke="#7f7f7f" stroke-width="0.9"/>
<line x1="427" y1="243.5" x2="431.4" y2="243.5" stroke="#7f7f7f" stroke-width="0.9"/>
<line x1="445.1" y1="270" x2="445.1" y2="267" stroke="#000000" stroke-width="0.9"/>
<line x1="442.9" y1="267" x2="447.3" y2="267" stroke="#000000" stroke-width="0.9"/>
<line x1="455.6" y1="300.2" x2="455.6" y2="296.5" stroke="#ff7b7b" stroke-width="0.9"/>
<line x1="453.4" y1="296.5" x2="457.8" y2="296.5" stroke="#ff7b7b" stroke-width="0.9"/>
<line x1="466.1" y1="276.1" x2="466.1" y2="274" stroke="#8fbff8" stroke-width="0.9"/>
<line x1="463.9" y1="274" x2="468.3" y2="274" stroke="#8fbff8" stroke-width="0.9"/>
<line x1="476.6" y1="262.6" x2="476.6" y2="258" stroke="#c2d57c" stroke-width="0.9"/>
<line x1="474.4" y1="258" x2="478.8" y2="258" stroke="#c2d57c" stroke-width="0.9"/>
<line x1="487.1" y1="248.6" x2="487.1" y2="246.9" stroke="#7f7f7f" stroke-width="0.9"/>
<line x1="484.9" y1="246.9" x2="489.3" y2="246.9" stroke="#7f7f7f" stroke-width="0.9"/>
<line x1="503" y1="290.6" x2="503" y2="285.2" stroke="#000000" stroke-width="0.9"/>
<line x1="500.8" y1="285.2" x2="505.2" y2="285.2" stroke="#000000" stroke-width="0.9"/>
<line x1="513.5" y1="302.1" x2="513.5" y2="296.5" stroke="#ff7b7b" stroke-width="0.9"/>
<line x1="511.3" y1="296.5" x2="515.7" y2="296.5" stroke="#ff7b7b" stroke-width="0.9"/>
<line x1="524" y1="296.2" x2="524" y2="294.5" stroke="#8fbff8" stroke-width="0.9"/>
<line x1="521.8" y1="294.5" x2="526.2" y2="294.5" stroke="#8fbff8" stroke-width="0.9"/>
<line x1="534.5" y1="277.9" x2="534.5" y2="275.5" stroke="#c2d57c" stroke-width="0.9"/>
<line x1="532.3" y1="275.5" x2="536.7" y2="275.5" stroke="#c2d57c" stroke-width="0.9"/>
<line x1="545" y1="245.1" x2="545" y2="243" stroke="#7f7f7f" stroke-width="0.9"/>
<line x1="542.8" y1="243" x2="547.2" y2="243" stroke="#7f7f7f" stroke-width="0.9"/>
<line x1="560.9" y1="307.3" x2="560.9" y2="302" stroke="#000000" stroke-width="0.9"/>
<line x1="558.7" y1="302" x2="563.1" y2="302" stroke="#000000" stroke-width="0.9"/>
<line x1="571.4" y1="314.3" x2="571.4" y2="309.8" stroke="#ff7b7b" stroke-width="0.9"/>
<line x1="569.2" y1="309.8" x2="573.6" y2="309.8" stroke="#ff7b7b" stroke-width="0.9"/>
<line x1="581.9" y1="295" x2="581.9" y2="288.3" stroke="#8fbff8" stroke-width="0.9"/>
<line x1="579.7" y1="288.3" x2="584.1" y2="288.3" stroke="#8fbff8" stroke-width="0.9"/>
<line x1="592.4" y1="279.3" x2="592.4" y2="278" stroke="#c2d57c" stroke-width="0.9"/>
<line x1="590.2" y1="278" x2="594.6" y2="278" stroke="#c2d57c" stroke-width="0.9"/>
<line x1="602.9" y1="293.9" x2="602.9" y2="289.8" stroke="#7f7f7f" stroke-width="0.9"/>
<line x1="600.7" y1="289.8" x2="605.1" y2="289.8" stroke="#7f7f7f" stroke-width="0.9"/>
<circle cx="387.2" cy="272.8" r="1.35" fill="#fff" stroke="#000" stroke-width="0.75"/>
<circle cx="385.2" cy="274.5" r="1.35" fill="#fff" stroke="#000" stroke-width="0.75"/>
<circle cx="384.4" cy="279.8" r="1.35" fill="#fff" stroke="#000" stroke-width="0.75"/>
<circle cx="387.2" cy="280.5" r="1.35" fill="#fff" stroke="#000" stroke-width="0.75"/>
<circle cx="390" cy="279.8" r="1.35" fill="#fff" stroke="#000" stroke-width="0.75"/>
<circle cx="389.2" cy="274" r="1.35" fill="#fff" stroke="#000" stroke-width="0.75"/>
<circle cx="394.9" cy="271.6" r="1.35" fill="#fff" stroke="#000" stroke-width="0.75"/>
<circle cx="400.5" cy="271.6" r="1.35" fill="#fff" stroke="#000" stroke-width="0.75"/>
<circle cx="394.9" cy="274.5" r="1.35" fill="#fff" stroke="#000" stroke-width="0.75"/>
<circle cx="400.5" cy="274.5" r="1.35" fill="#fff" stroke="#000" stroke-width="0.75"/>
<circle cx="398.2" cy="278.6" r="1.35" fill="#fff" stroke="#000" stroke-width="0.75"/>
<circle cx="398.2" cy="307.5" r="1.35" fill="#fff" stroke="#000" stroke-width="0.75"/>
<circle cx="408.2" cy="262.3" r="1.35" fill="#fff" stroke="#000" stroke-width="0.75"/>
<circle cx="408.2" cy="268.1" r="1.35" fill="#fff" stroke="#000" stroke-width="0.75"/>
<circle cx="405.4" cy="272.2" r="1.35" fill="#fff" stroke="#000" stroke-width="0.75"/>
<circle cx="407.7" cy="271.5" r="1.35" fill="#fff" stroke="#000" stroke-width="0.75"/>
<circle cx="410.7" cy="274.5" r="1.35" fill="#fff" stroke="#000" stroke-width="0.75"/>
<circle cx="405.4" cy="274.5" r="1.35" fill="#fff" stroke="#000" stroke-width="0.75"/>
<circle cx="418.7" cy="252.6" r="1.35" fill="#fff" stroke="#000" stroke-width="0.75"/>
<circle cx="416.2" cy="264.6" r="1.35" fill="#fff" stroke="#000" stroke-width="0.75"/>
<circle cx="418.2" cy="264" r="1.35" fill="#fff" stroke="#000" stroke-width="0.75"/>
<circle cx="415.9" cy="266.4" r="1.35" fill="#fff" stroke="#000" stroke-width="0.75"/>
<circle cx="419.2" cy="266.4" r="1.35" fill="#fff" stroke="#000" stroke-width="0.75"/>
<circle cx="421.5" cy="266.4" r="1.35" fill="#fff" stroke="#000" stroke-width="0.75"/>
<circle cx="428.2" cy="239.9" r="1.35" fill="#fff" stroke="#000" stroke-width="0.75"/>
<circle cx="430.7" cy="241.3" r="1.35" fill="#fff" stroke="#000" stroke-width="0.75"/>
<circle cx="426.4" cy="250.1" r="1.35" fill="#fff" stroke="#000" stroke-width="0.75"/>
<circle cx="429.2" cy="250.1" r="1.35" fill="#fff" stroke="#000" stroke-width="0.75"/>
<circle cx="432" cy="250.1" r="1.35" fill="#fff" stroke="#000" stroke-width="0.75"/>
<circle cx="426.7" cy="251.8" r="1.35" fill="#fff" stroke="#000" stroke-width="0.75"/>
<circle cx="442.1" cy="265.8" r="1.35" fill="#fff" stroke="#000" stroke-width="0.75"/>
<circle cx="448.1" cy="265.8" r="1.35" fill="#fff" stroke="#000" stroke-width="0.75"/>
<circle cx="442.1" cy="270.4" r="1.35" fill="#fff" stroke="#000" stroke-width="0.75"/>
<circle cx="448.1" cy="270.4" r="1.35" fill="#fff" stroke="#000" stroke-width="0.75"/>
<circle cx="445.1" cy="275.1" r="1.35" fill="#fff" stroke="#000" stroke-width="0.75"/>
<circle cx="445.1" cy="280.5" r="1.35" fill="#fff" stroke="#000" stroke-width="0.75"/>
<circle cx="452.6" cy="296.1" r="1.35" fill="#fff" stroke="#000" stroke-width="0.75"/>
<circle cx="458.6" cy="296.1" r="1.35" fill="#fff" stroke="#000" stroke-width="0.75"/>
<circle cx="453.6" cy="303.1" r="1.35" fill="#fff" stroke="#000" stroke-width="0.75"/>
<circle cx="456.6" cy="303.1" r="1.35" fill="#fff" stroke="#000" stroke-width="0.75"/>
<circle cx="454.6" cy="306.1" r="1.35" fill="#fff" stroke="#000" stroke-width="0.75"/>
<circle cx="457.6" cy="306.1" r="1.35" fill="#fff" stroke="#000" stroke-width="0.75"/>
<circle cx="469.1" cy="271.2" r="1.35" fill="#fff" stroke="#000" stroke-width="0.75"/>
<circle cx="466.6" cy="273.1" r="1.35" fill="#fff" stroke="#000" stroke-width="0.75"/>
<circle cx="466.1" cy="277.2" r="1.35" fill="#fff" stroke="#000" stroke-width="0.75"/>
<circle cx="463.3" cy="280.1" r="1.35" fill="#fff" stroke="#000" stroke-width="0.75"/>
<circle cx="468.9" cy="280.1" r="1.35" fill="#fff" stroke="#000" stroke-width="0.75"/>
<circle cx="466.1" cy="282.5" r="1.35" fill="#fff" stroke="#000" stroke-width="0.75"/>
<circle cx="476.6" cy="255.6" r="1.35" fill="#fff" stroke="#000" stroke-width="0.75"/>
<circle cx="473.8" cy="261.5" r="1.35" fill="#fff" stroke="#000" stroke-width="0.75"/>
<circle cx="473.8" cy="264.4" r="1.35" fill="#fff" stroke="#000" stroke-width="0.75"/>
<circle cx="479.6" cy="264.4" r="1.35" fill="#fff" stroke="#000" stroke-width="0.75"/>
<circle cx="476.6" cy="266.7" r="1.35" fill="#fff" stroke="#000" stroke-width="0.75"/>
<circle cx="476.6" cy="269.6" r="1.35" fill="#fff" stroke="#000" stroke-width="0.75"/>
<circle cx="487.1" cy="244.5" r="1.35" fill="#fff" stroke="#000" stroke-width="0.75"/>
<circle cx="484.3" cy="249.2" r="1.35" fill="#fff" stroke="#000" stroke-width="0.75"/>
<circle cx="490.1" cy="249.2" r="1.35" fill="#fff" stroke="#000" stroke-width="0.75"/>
<circle cx="487.1" cy="252.1" r="1.35" fill="#fff" stroke="#000" stroke-width="0.75"/>
<circle cx="487.1" cy="255" r="1.35" fill="#fff" stroke="#000" stroke-width="0.75"/>
<circle cx="487.1" cy="259.1" r="1.35" fill="#fff" stroke="#000" stroke-width="0.75"/>
<circle cx="503" cy="282.2" r="1.35" fill="#fff" stroke="#000" stroke-width="0.75"/>
<circle cx="500.2" cy="291.1" r="1.35" fill="#fff" stroke="#000" stroke-width="0.75"/>
<circle cx="505.8" cy="291.1" r="1.35" fill="#fff" stroke="#000" stroke-width="0.75"/>
<circle cx="503" cy="303.3" r="1.35" fill="#fff" stroke="#000" stroke-width="0.75"/>
<circle cx="503" cy="315.2" r="1.35" fill="#fff" stroke="#000" stroke-width="0.75"/>
<circle cx="513.5" cy="293.3" r="1.35" fill="#fff" stroke="#000" stroke-width="0.75"/>
<circle cx="513.5" cy="301.3" r="1.35" fill="#fff" stroke="#000" stroke-width="0.75"/>
<circle cx="510.7" cy="308.1" r="1.35" fill="#fff" stroke="#000" stroke-width="0.75"/>
<circle cx="516.3" cy="308.1" r="1.35" fill="#fff" stroke="#000" stroke-width="0.75"/>
<circle cx="510.7" cy="310.5" r="1.35" fill="#fff" stroke="#000" stroke-width="0.75"/>
<circle cx="527" cy="293.8" r="1.35" fill="#fff" stroke="#000" stroke-width="0.75"/>
<circle cx="521.5" cy="296.2" r="1.35" fill="#fff" stroke="#000" stroke-width="0.75"/>
<circle cx="524" cy="296.2" r="1.35" fill="#fff" stroke="#000" stroke-width="0.75"/>
<circle cx="526.5" cy="298.1" r="1.35" fill="#fff" stroke="#000" stroke-width="0.75"/>
<circle cx="524" cy="309.2" r="1.35" fill="#fff" stroke="#000" stroke-width="0.75"/>
<circle cx="532" cy="274.3" r="1.35" fill="#fff" stroke="#000" stroke-width="0.75"/>
<circle cx="537" cy="274.3" r="1.35" fill="#fff" stroke="#000" stroke-width="0.75"/>
<circle cx="534" cy="277.5" r="1.35" fill="#fff" stroke="#000" stroke-width="0.75"/>
<circle cx="531.7" cy="280.3" r="1.35" fill="#fff" stroke="#000" stroke-width="0.75"/>
<circle cx="537.3" cy="282.7" r="1.35" fill="#fff" stroke="#000" stroke-width="0.75"/>
<circle cx="534.5" cy="286.3" r="1.35" fill="#fff" stroke="#000" stroke-width="0.75"/>
<circle cx="545" cy="239" r="1.35" fill="#fff" stroke="#000" stroke-width="0.75"/>
<circle cx="545" cy="242.2" r="1.35" fill="#fff" stroke="#000" stroke-width="0.75"/>
<circle cx="542.5" cy="248.6" r="1.35" fill="#fff" stroke="#000" stroke-width="0.75"/>
<circle cx="547.5" cy="248.6" r="1.35" fill="#fff" stroke="#000" stroke-width="0.75"/>
<circle cx="542.5" cy="251" r="1.35" fill="#fff" stroke="#000" stroke-width="0.75"/>
<circle cx="547.5" cy="251" r="1.35" fill="#fff" stroke="#000" stroke-width="0.75"/>
<circle cx="560.9" cy="299.1" r="1.35" fill="#fff" stroke="#000" stroke-width="0.75"/>
<circle cx="557.9" cy="307.3" r="1.35" fill="#fff" stroke="#000" stroke-width="0.75"/>
<circle cx="563.9" cy="307.3" r="1.35" fill="#fff" stroke="#000" stroke-width="0.75"/>
<circle cx="559.4" cy="315.8" r="1.35" fill="#fff" stroke="#000" stroke-width="0.75"/>
<circle cx="562.4" cy="315.8" r="1.35" fill="#fff" stroke="#000" stroke-width="0.75"/>
<circle cx="571.9" cy="307.3" r="1.35" fill="#fff" stroke="#000" stroke-width="0.75"/>
<circle cx="568.6" cy="313.1" r="1.35" fill="#fff" stroke="#000" stroke-width="0.75"/>
<circle cx="568.6" cy="314.9" r="1.35" fill="#fff" stroke="#000" stroke-width="0.75"/>
<circle cx="574.4" cy="314.9" r="1.35" fill="#fff" stroke="#000" stroke-width="0.75"/>
<circle cx="581.9" cy="284.8" r="1.35" fill="#fff" stroke="#000" stroke-width="0.75"/>
<circle cx="581.9" cy="300.3" r="1.35" fill="#fff" stroke="#000" stroke-width="0.75"/>
<circle cx="579.1" cy="304.6" r="1.35" fill="#fff" stroke="#000" stroke-width="0.75"/>
<circle cx="581.9" cy="304.6" r="1.35" fill="#fff" stroke="#000" stroke-width="0.75"/>
<circle cx="584.7" cy="304.6" r="1.35" fill="#fff" stroke="#000" stroke-width="0.75"/>
<circle cx="581.9" cy="314.3" r="1.35" fill="#fff" stroke="#000" stroke-width="0.75"/>
<circle cx="589.6" cy="277.8" r="1.35" fill="#fff" stroke="#000" stroke-width="0.75"/>
<circle cx="592.4" cy="278.3" r="1.35" fill="#fff" stroke="#000" stroke-width="0.75"/>
<circle cx="595.2" cy="277.8" r="1.35" fill="#fff" stroke="#000" stroke-width="0.75"/>
<circle cx="590.9" cy="281.6" r="1.35" fill="#fff" stroke="#000" stroke-width="0.75"/>
<circle cx="593.9" cy="281.6" r="1.35" fill="#fff" stroke="#000" stroke-width="0.75"/>
<circle cx="592.4" cy="285.1" r="1.35" fill="#fff" stroke="#000" stroke-width="0.75"/>
<circle cx="600.1" cy="289.2" r="1.35" fill="#fff" stroke="#000" stroke-width="0.75"/>
<circle cx="605.7" cy="289.2" r="1.35" fill="#fff" stroke="#000" stroke-width="0.75"/>
<circle cx="600.1" cy="293.3" r="1.35" fill="#fff" stroke="#000" stroke-width="0.75"/>
<circle cx="605.7" cy="293.3" r="1.35" fill="#fff" stroke="#000" stroke-width="0.75"/>
<circle cx="600.1" cy="306.1" r="1.35" fill="#fff" stroke="#000" stroke-width="0.75"/>
<circle cx="605.7" cy="306.1" r="1.35" fill="#fff" stroke="#000" stroke-width="0.75"/>
<line x1="380.5" y1="218.4" x2="380.5" y2="333" stroke="#333333" stroke-width="1"/>
<line x1="380" y1="332.5" x2="609.8" y2="332.5" stroke="#333333" stroke-width="1.1"/>
<line x1="377.1" y1="332.5" x2="380.5" y2="332.5" stroke="#333333" stroke-width="1"/>
<text x="372.98" y="335.9" font-size="8.5" text-anchor="end" fill="#1a1a1a">10</text>
<text x="373.08" y="333.4" font-size="5.8" fill="#1a1a1a">0</text>
<line x1="377.1" y1="318.3" x2="380.5" y2="318.3" stroke="#333333" stroke-width="1"/>
<text x="372.98" y="321.7" font-size="8.5" text-anchor="end" fill="#1a1a1a">10</text>
<text x="373.08" y="319.2" font-size="5.8" fill="#1a1a1a">1</text>
<line x1="377.1" y1="304.1" x2="380.5" y2="304.1" stroke="#333333" stroke-width="1"/>
<text x="372.98" y="307.5" font-size="8.5" text-anchor="end" fill="#1a1a1a">10</text>
<text x="373.08" y="305" font-size="5.8" fill="#1a1a1a">2</text>
<line x1="377.1" y1="289.9" x2="380.5" y2="289.9" stroke="#333333" stroke-width="1"/>
<text x="372.98" y="293.3" font-size="8.5" text-anchor="end" fill="#1a1a1a">10</text>
<text x="373.08" y="290.8" font-size="5.8" fill="#1a1a1a">3</text>
<line x1="377.1" y1="275.7" x2="380.5" y2="275.7" stroke="#333333" stroke-width="1"/>
<text x="372.98" y="279.1" font-size="8.5" text-anchor="end" fill="#1a1a1a">10</text>
<text x="373.08" y="276.6" font-size="5.8" fill="#1a1a1a">4</text>
<line x1="377.1" y1="261.5" x2="380.5" y2="261.5" stroke="#333333" stroke-width="1"/>
<text x="372.98" y="264.9" font-size="8.5" text-anchor="end" fill="#1a1a1a">10</text>
<text x="373.08" y="262.4" font-size="5.8" fill="#1a1a1a">5</text>
<line x1="377.1" y1="247.3" x2="380.5" y2="247.3" stroke="#333333" stroke-width="1"/>
<text x="372.98" y="250.7" font-size="8.5" text-anchor="end" fill="#1a1a1a">10</text>
<text x="373.08" y="248.2" font-size="5.8" fill="#1a1a1a">6</text>
<line x1="377.1" y1="233.1" x2="380.5" y2="233.1" stroke="#333333" stroke-width="1"/>
<text x="372.98" y="236.5" font-size="8.5" text-anchor="end" fill="#1a1a1a">10</text>
<text x="373.08" y="234" font-size="5.8" fill="#1a1a1a">7</text>
<line x1="377.1" y1="218.9" x2="380.5" y2="218.9" stroke="#333333" stroke-width="1"/>
<text x="372.98" y="222.3" font-size="8.5" text-anchor="end" fill="#1a1a1a">10</text>
<text x="373.08" y="219.8" font-size="5.8" fill="#1a1a1a">8</text>
<line x1="408.2" y1="332.5" x2="408.2" y2="336.1" stroke="#333333" stroke-width="1"/>
<text x="408.2" y="344.1" font-size="9" text-anchor="middle" fill="#1a1a1a">12 h</text>
<line x1="466.1" y1="332.5" x2="466.1" y2="336.1" stroke="#333333" stroke-width="1"/>
<text x="466.1" y="344.1" font-size="9" text-anchor="middle" fill="#1a1a1a">24 h</text>
<line x1="524" y1="332.5" x2="524" y2="336.1" stroke="#333333" stroke-width="1"/>
<text x="524" y="344.1" font-size="9" text-anchor="middle" fill="#1a1a1a">48 h</text>
<line x1="581.9" y1="332.5" x2="581.9" y2="336.1" stroke="#333333" stroke-width="1"/>
<text x="581.9" y="344.1" font-size="9" text-anchor="middle" fill="#1a1a1a">72 h</text>
<text x="495.1" y="355.3" font-size="10" text-anchor="middle" fill="#1a1a1a">Time (h)</text>
<text x="359.2" y="276.3" font-size="9" text-anchor="middle" fill="#1a1a1a" transform="rotate(-90 359.2 276.3)">CFU/g</text>
<text x="492.7" y="210.4" font-size="8.8" text-anchor="middle" fill="#1a1a1a">Kidney</text>
<text x="429" y="240.1" font-size="8.2" text-anchor="middle" fill="#222">****</text>
<text x="545" y="239.2" font-size="8.2" text-anchor="middle" fill="#222">****</text>
<rect x="607.7" y="219.6" width="8.4" height="4.2" fill="#000000"/>
<text x="618" y="223.8" font-size="7.5" fill="#1a1a1a">WT</text>
<rect x="607.7" y="230.15" width="8.4" height="4.2" fill="#ff7b7b"/>
<text x="618" y="234.35" font-size="7.5" fill="#1a1a1a">WT+p<tspan font-style="italic">mcr-1</tspan></text>
<rect x="607.7" y="240.7" width="8.4" height="4.2" fill="#8fbff8"/>
<text x="618" y="244.9" font-size="7.5" fill="#1a1a1a">WT+p<tspan font-style="italic">ecaR</tspan></text>
<rect x="607.7" y="251.25" width="8.4" height="4.2" fill="#c2d57c"/>
<text x="618" y="255.45" font-size="7.5" fill="#1a1a1a">WT+p<tspan font-style="italic">mcr-1</tspan>+p<tspan font-style="italic">ecaR</tspan></text>
<rect x="607.7" y="261.8" width="8.4" height="4.2" fill="#7f7f7f"/>
<text x="618" y="266" font-size="7.5" fill="#1a1a1a">TC</text>
<text x="-0.3" y="390" font-size="16.4" font-weight="bold" fill="#000">e</text>
<rect x="58.4" y="507.9" width="17.5" height="41.1" fill="#000000"/>
<rect x="84.3" y="518.15" width="17.5" height="30.85" fill="#ff7b7b"/>
<rect x="110.2" y="497.57" width="17.5" height="51.43" fill="#8fbff8"/>
<rect x="136.2" y="425.58" width="17.5" height="123.42" fill="#c2d57c"/>
<rect x="162.2" y="425.58" width="17.5" height="123.42" fill="#7f7f7f"/>
<line x1="67.15" y1="507.9" x2="67.15" y2="490.13" stroke="#000000" stroke-width="1"/>
<line x1="62.15" y1="490.13" x2="72.15" y2="490.13" stroke="#000000" stroke-width="1"/>
<line x1="118.95" y1="497.57" x2="118.95" y2="479.76" stroke="#8fbff8" stroke-width="1"/>
<line x1="113.95" y1="479.76" x2="123.95" y2="479.76" stroke="#8fbff8" stroke-width="1"/>
<circle cx="62.7" cy="518.15" r="2.3" fill="#fff" stroke="#000" stroke-width="0.9"/>
<circle cx="71.1" cy="518.15" r="2.3" fill="#fff" stroke="#000" stroke-width="0.9"/>
<circle cx="66.9" cy="487.29" r="2.3" fill="#fff" stroke="#000" stroke-width="0.9"/>
<circle cx="86.8" cy="518.15" r="2.3" fill="#fff" stroke="#000" stroke-width="0.9"/>
<circle cx="92.8" cy="518.15" r="2.3" fill="#fff" stroke="#000" stroke-width="0.9"/>
<circle cx="98.8" cy="518.15" r="2.3" fill="#fff" stroke="#000" stroke-width="0.9"/>
<circle cx="114.4" cy="487.29" r="2.3" fill="#fff" stroke="#000" stroke-width="0.9"/>
<circle cx="123.2" cy="487.29" r="2.3" fill="#fff" stroke="#000" stroke-width="0.9"/>
<circle cx="118.9" cy="518.15" r="2.3" fill="#fff" stroke="#000" stroke-width="0.9"/>
<circle cx="139" cy="425.58" r="2.3" fill="#fff" stroke="#000" stroke-width="0.9"/>
<circle cx="144.95" cy="425.58" r="2.3" fill="#fff" stroke="#000" stroke-width="0.9"/>
<circle cx="150.9" cy="425.58" r="2.3" fill="#fff" stroke="#000" stroke-width="0.9"/>
<circle cx="165" cy="425.58" r="2.3" fill="#fff" stroke="#000" stroke-width="0.9"/>
<circle cx="170.95" cy="425.58" r="2.3" fill="#fff" stroke="#000" stroke-width="0.9"/>
<circle cx="176.9" cy="425.58" r="2.3" fill="#fff" stroke="#000" stroke-width="0.9"/>
<line x1="49" y1="400.9" x2="189" y2="400.9" stroke="#333333" stroke-width="1.1"/>
<line x1="188.5" y1="400.9" x2="188.5" y2="549" stroke="#333333" stroke-width="1"/>
<line x1="49.5" y1="400.4" x2="49.5" y2="549.5" stroke="#333333" stroke-width="1"/>
<line x1="49" y1="549" x2="189" y2="549" stroke="#333333" stroke-width="1.1"/>
<line x1="43.2" y1="549" x2="49.5" y2="549" stroke="#333333" stroke-width="1"/>
<text x="43.1" y="552.4" font-size="9.2" text-anchor="end" fill="#1a1a1a">0</text>
<line x1="43.2" y1="499.63" x2="49.5" y2="499.63" stroke="#333333" stroke-width="1"/>
<text x="43.1" y="503.03" font-size="9.2" text-anchor="end" fill="#1a1a1a">0.4</text>
<line x1="43.2" y1="450.27" x2="49.5" y2="450.27" stroke="#333333" stroke-width="1"/>
<text x="43.1" y="453.67" font-size="9.2" text-anchor="end" fill="#1a1a1a">0.8</text>
<line x1="43.2" y1="400.9" x2="49.5" y2="400.9" stroke="#333333" stroke-width="1"/>
<text x="43.1" y="404.3" font-size="9.2" text-anchor="end" fill="#1a1a1a">1.2</text>
<text x="25.1" y="474.7" font-size="9.5" text-anchor="middle" fill="#1a1a1a" transform="rotate(-90 25.1 474.7)" textLength="69" lengthAdjust="spacingAndGlyphs">Bile salt&#160;&#160;MIC (%)</text>
<rect x="51.2" y="404.3" width="8.8" height="4.4" fill="#000000"/>
<text x="61.8" y="409.1" font-size="8.4" fill="#1a1a1a">WT</text>
<rect x="51.2" y="415.55" width="8.8" height="4.4" fill="#ff7b7b"/>
<text x="61.8" y="420.35" font-size="8.4" fill="#1a1a1a">WT+p<tspan font-style="italic">mcr-1</tspan></text>
<rect x="51.2" y="426.8" width="8.8" height="4.4" fill="#8fbff8"/>
<text x="61.8" y="431.6" font-size="8.4" fill="#1a1a1a">WT+p<tspan font-style="italic">ecaR</tspan></text>
<rect x="51.2" y="438.05" width="8.8" height="4.4" fill="#c2d57c"/>
<text x="61.8" y="442.85" font-size="8.4" fill="#1a1a1a">WT+p<tspan font-style="italic">mcr-1</tspan>+p<tspan font-style="italic">ecaR</tspan></text>
<rect x="51.2" y="449.3" width="8.8" height="4.4" fill="#7f7f7f"/>
<text x="61.8" y="454.1" font-size="8.4" fill="#1a1a1a">TC</text>
<text x="221.3" y="389.7" font-size="16.4" font-weight="bold" fill="#000">f</text>
<line x1="251" y1="410.5" x2="418.5" y2="410.5" stroke="#333333" stroke-width="1.1"/>
<line x1="251.5" y1="410" x2="251.5" y2="536" stroke="#333333" stroke-width="1"/>
<line x1="251" y1="535.5" x2="418.5" y2="535.5" stroke="#333333" stroke-width="1.1"/>
<line x1="247" y1="535.5" x2="251.5" y2="535.5" stroke="#333333" stroke-width="1"/>
<text x="245.6" y="539.2" font-size="9.2" text-anchor="end" fill="#1a1a1a">0</text>
<line x1="247" y1="510.5" x2="251.5" y2="510.5" stroke="#333333" stroke-width="1"/>
<text x="245.6" y="514.2" font-size="9.2" text-anchor="end" fill="#1a1a1a">0.2</text>
<line x1="247" y1="485.5" x2="251.5" y2="485.5" stroke="#333333" stroke-width="1"/>
<text x="245.6" y="489.2" font-size="9.2" text-anchor="end" fill="#1a1a1a">0.4</text>
<line x1="247" y1="460.5" x2="251.5" y2="460.5" stroke="#333333" stroke-width="1"/>
<text x="245.6" y="464.2" font-size="9.2" text-anchor="end" fill="#1a1a1a">0.6</text>
<line x1="247" y1="435.5" x2="251.5" y2="435.5" stroke="#333333" stroke-width="1"/>
<text x="245.6" y="439.2" font-size="9.2" text-anchor="end" fill="#1a1a1a">0.8</text>
<line x1="247" y1="410.5" x2="251.5" y2="410.5" stroke="#333333" stroke-width="1"/>
<text x="245.6" y="414.2" font-size="9.2" text-anchor="end" fill="#1a1a1a">1.0</text>
<line x1="251.5" y1="535.5" x2="251.5" y2="540.5" stroke="#333333" stroke-width="1"/>
<text x="251.5" y="549.1" font-size="9.2" text-anchor="middle" fill="#1a1a1a">0</text>
<line x1="307.18" y1="535.5" x2="307.18" y2="540.5" stroke="#333333" stroke-width="1"/>
<text x="307.18" y="549.1" font-size="9.2" text-anchor="middle" fill="#1a1a1a">4</text>
<line x1="362.86" y1="535.5" x2="362.86" y2="540.5" stroke="#333333" stroke-width="1"/>
<text x="362.86" y="549.1" font-size="9.2" text-anchor="middle" fill="#1a1a1a">8</text>
<line x1="418.54" y1="535.5" x2="418.54" y2="540.5" stroke="#333333" stroke-width="1"/>
<text x="418.54" y="549.1" font-size="9.2" text-anchor="middle" fill="#1a1a1a">12</text>
<line x1="418.5" y1="410" x2="418.5" y2="536" stroke="#333333" stroke-width="1"/>
<text x="333.2" y="559.3" font-size="8.9" text-anchor="middle" fill="#1a1a1a">Time (h)</text>
<text x="333.9" y="406.1" font-size="9" text-anchor="middle" fill="#1a1a1a">0% bile salts</text>
<text transform="translate(227.9 473) rotate(-90)" font-size="10.3" fill="#1a1a1a" text-anchor="middle">OD<tspan font-size="6.8" dy="2.6">600</tspan></text>
<line x1="282.36" y1="524.75" x2="282.36" y2="528.5" stroke="#9a9a9a" stroke-width="0.8"/>
<line x1="280.56" y1="524.75" x2="284.16" y2="524.75" stroke="#9a9a9a" stroke-width="0.8"/>
<line x1="280.56" y1="528.5" x2="284.16" y2="528.5" stroke="#9a9a9a" stroke-width="0.8"/>
<line x1="289.35" y1="517.12" x2="289.35" y2="523.38" stroke="#9a9a9a" stroke-width="0.8"/>
<line x1="287.55" y1="517.12" x2="291.15" y2="517.12" stroke="#9a9a9a" stroke-width="0.8"/>
<line x1="287.55" y1="523.38" x2="291.15" y2="523.38" stroke="#9a9a9a" stroke-width="0.8"/>
<line x1="296.34" y1="504.75" x2="296.34" y2="514.75" stroke="#9a9a9a" stroke-width="0.8"/>
<line x1="294.54" y1="504.75" x2="298.14" y2="504.75" stroke="#9a9a9a" stroke-width="0.8"/>
<line x1="294.54" y1="514.75" x2="298.14" y2="514.75" stroke="#9a9a9a" stroke-width="0.8"/>
<line x1="303.33" y1="489.38" x2="303.33" y2="504.38" stroke="#9a9a9a" stroke-width="0.8"/>
<line x1="301.53" y1="489.38" x2="305.13" y2="489.38" stroke="#9a9a9a" stroke-width="0.8"/>
<line x1="301.53" y1="504.38" x2="305.13" y2="504.38" stroke="#9a9a9a" stroke-width="0.8"/>
<line x1="310.32" y1="473.75" x2="310.32" y2="488.75" stroke="#9a9a9a" stroke-width="0.8"/>
<line x1="308.52" y1="473.75" x2="312.12" y2="473.75" stroke="#9a9a9a" stroke-width="0.8"/>
<line x1="308.52" y1="488.75" x2="312.12" y2="488.75" stroke="#9a9a9a" stroke-width="0.8"/>
<line x1="317.31" y1="469" x2="317.31" y2="479" stroke="#9a9a9a" stroke-width="0.8"/>
<line x1="315.51" y1="469" x2="319.11" y2="469" stroke="#9a9a9a" stroke-width="0.8"/>
<line x1="315.51" y1="479" x2="319.11" y2="479" stroke="#9a9a9a" stroke-width="0.8"/>
<line x1="324.3" y1="464" x2="324.3" y2="472.75" stroke="#9a9a9a" stroke-width="0.8"/>
<line x1="322.5" y1="464" x2="326.1" y2="464" stroke="#9a9a9a" stroke-width="0.8"/>
<line x1="322.5" y1="472.75" x2="326.1" y2="472.75" stroke="#9a9a9a" stroke-width="0.8"/>
<line x1="331.29" y1="459.25" x2="331.29" y2="466.75" stroke="#9a9a9a" stroke-width="0.8"/>
<line x1="329.49" y1="459.25" x2="333.09" y2="459.25" stroke="#9a9a9a" stroke-width="0.8"/>
<line x1="329.49" y1="466.75" x2="333.09" y2="466.75" stroke="#9a9a9a" stroke-width="0.8"/>
<line x1="338.28" y1="454.25" x2="338.28" y2="461.75" stroke="#9a9a9a" stroke-width="0.8"/>
<line x1="336.48" y1="454.25" x2="340.08" y2="454.25" stroke="#9a9a9a" stroke-width="0.8"/>
<line x1="336.48" y1="461.75" x2="340.08" y2="461.75" stroke="#9a9a9a" stroke-width="0.8"/>
<line x1="345.27" y1="449.88" x2="345.27" y2="457.38" stroke="#9a9a9a" stroke-width="0.8"/>
<line x1="343.47" y1="449.88" x2="347.07" y2="449.88" stroke="#9a9a9a" stroke-width="0.8"/>
<line x1="343.47" y1="457.38" x2="347.07" y2="457.38" stroke="#9a9a9a" stroke-width="0.8"/>
<line x1="352.26" y1="446.75" x2="352.26" y2="454.25" stroke="#9a9a9a" stroke-width="0.8"/>
<line x1="350.46" y1="446.75" x2="354.06" y2="446.75" stroke="#9a9a9a" stroke-width="0.8"/>
<line x1="350.46" y1="454.25" x2="354.06" y2="454.25" stroke="#9a9a9a" stroke-width="0.8"/>
<line x1="359.25" y1="444.25" x2="359.25" y2="451.75" stroke="#9a9a9a" stroke-width="0.8"/>
<line x1="357.45" y1="444.25" x2="361.05" y2="444.25" stroke="#9a9a9a" stroke-width="0.8"/>
<line x1="357.45" y1="451.75" x2="361.05" y2="451.75" stroke="#9a9a9a" stroke-width="0.8"/>
<line x1="366.24" y1="442.38" x2="366.24" y2="449.88" stroke="#9a9a9a" stroke-width="0.8"/>
<line x1="364.44" y1="442.38" x2="368.04" y2="442.38" stroke="#9a9a9a" stroke-width="0.8"/>
<line x1="364.44" y1="449.88" x2="368.04" y2="449.88" stroke="#9a9a9a" stroke-width="0.8"/>
<line x1="373.23" y1="440.75" x2="373.23" y2="448.25" stroke="#9a9a9a" stroke-width="0.8"/>
<line x1="371.43" y1="440.75" x2="375.03" y2="440.75" stroke="#9a9a9a" stroke-width="0.8"/>
<line x1="371.43" y1="448.25" x2="375.03" y2="448.25" stroke="#9a9a9a" stroke-width="0.8"/>
<line x1="380.22" y1="439" x2="380.22" y2="446.5" stroke="#9a9a9a" stroke-width="0.8"/>
<line x1="378.42" y1="439" x2="382.02" y2="439" stroke="#9a9a9a" stroke-width="0.8"/>
<line x1="378.42" y1="446.5" x2="382.02" y2="446.5" stroke="#9a9a9a" stroke-width="0.8"/>
<line x1="387.21" y1="437.75" x2="387.21" y2="445.25" stroke="#9a9a9a" stroke-width="0.8"/>
<line x1="385.41" y1="437.75" x2="389.01" y2="437.75" stroke="#9a9a9a" stroke-width="0.8"/>
<line x1="385.41" y1="445.25" x2="389.01" y2="445.25" stroke="#9a9a9a" stroke-width="0.8"/>
<line x1="394.2" y1="436.5" x2="394.2" y2="444" stroke="#9a9a9a" stroke-width="0.8"/>
<line x1="392.4" y1="436.5" x2="396" y2="436.5" stroke="#9a9a9a" stroke-width="0.8"/>
<line x1="392.4" y1="444" x2="396" y2="444" stroke="#9a9a9a" stroke-width="0.8"/>
<line x1="401.19" y1="435.25" x2="401.19" y2="442.75" stroke="#9a9a9a" stroke-width="0.8"/>
<line x1="399.39" y1="435.25" x2="402.99" y2="435.25" stroke="#9a9a9a" stroke-width="0.8"/>
<line x1="399.39" y1="442.75" x2="402.99" y2="442.75" stroke="#9a9a9a" stroke-width="0.8"/>
<line x1="408.18" y1="434" x2="408.18" y2="441.5" stroke="#9a9a9a" stroke-width="0.8"/>
<line x1="406.38" y1="434" x2="409.98" y2="434" stroke="#9a9a9a" stroke-width="0.8"/>
<line x1="406.38" y1="441.5" x2="409.98" y2="441.5" stroke="#9a9a9a" stroke-width="0.8"/>
<line x1="415.17" y1="432.25" x2="415.17" y2="439.75" stroke="#9a9a9a" stroke-width="0.8"/>
<line x1="413.37" y1="432.25" x2="416.97" y2="432.25" stroke="#9a9a9a" stroke-width="0.8"/>
<line x1="413.37" y1="439.75" x2="416.97" y2="439.75" stroke="#9a9a9a" stroke-width="0.8"/>
<polyline points="254.4,530 261.39,530 268.38,529.62 275.37,528.5 282.36,526.62 289.35,520.25 296.34,509.75 303.33,496.88 310.32,481.25 317.31,474 324.3,468.38 331.29,463 338.28,458 345.27,453.62 352.26,450.5 359.25,448 366.24,446.12 373.23,444.5 380.22,442.75 387.21,441.5 394.2,440.25 401.19,439 408.18,437.75 415.17,436" fill="none" stroke="#8a8a8a" stroke-width="0.8" stroke-linejoin="round"/>
<line x1="282.36" y1="519.25" x2="282.36" y2="524.25" stroke="#bcd98a" stroke-width="0.8"/>
<line x1="280.56" y1="519.25" x2="284.16" y2="519.25" stroke="#bcd98a" stroke-width="0.8"/>
<line x1="280.56" y1="524.25" x2="284.16" y2="524.25" stroke="#bcd98a" stroke-width="0.8"/>
<line x1="289.35" y1="508" x2="289.35" y2="515.5" stroke="#bcd98a" stroke-width="0.8"/>
<line x1="287.55" y1="508" x2="291.15" y2="508" stroke="#bcd98a" stroke-width="0.8"/>
<line x1="287.55" y1="515.5" x2="291.15" y2="515.5" stroke="#bcd98a" stroke-width="0.8"/>
<line x1="296.34" y1="494.62" x2="296.34" y2="504.62" stroke="#bcd98a" stroke-width="0.8"/>
<line x1="294.54" y1="494.62" x2="298.14" y2="494.62" stroke="#bcd98a" stroke-width="0.8"/>
<line x1="294.54" y1="504.62" x2="298.14" y2="504.62" stroke="#bcd98a" stroke-width="0.8"/>
<line x1="303.33" y1="478.62" x2="303.33" y2="496.12" stroke="#bcd98a" stroke-width="0.8"/>
<line x1="301.53" y1="478.62" x2="305.13" y2="478.62" stroke="#bcd98a" stroke-width="0.8"/>
<line x1="301.53" y1="496.12" x2="305.13" y2="496.12" stroke="#bcd98a" stroke-width="0.8"/>
<line x1="310.32" y1="463" x2="310.32" y2="478" stroke="#bcd98a" stroke-width="0.8"/>
<line x1="308.52" y1="463" x2="312.12" y2="463" stroke="#bcd98a" stroke-width="0.8"/>
<line x1="308.52" y1="478" x2="312.12" y2="478" stroke="#bcd98a" stroke-width="0.8"/>
<line x1="317.31" y1="456" x2="317.31" y2="473.5" stroke="#bcd98a" stroke-width="0.8"/>
<line x1="315.51" y1="456" x2="319.11" y2="456" stroke="#bcd98a" stroke-width="0.8"/>
<line x1="315.51" y1="473.5" x2="319.11" y2="473.5" stroke="#bcd98a" stroke-width="0.8"/>
<line x1="324.3" y1="450.75" x2="324.3" y2="468.25" stroke="#bcd98a" stroke-width="0.8"/>
<line x1="322.5" y1="450.75" x2="326.1" y2="450.75" stroke="#bcd98a" stroke-width="0.8"/>
<line x1="322.5" y1="468.25" x2="326.1" y2="468.25" stroke="#bcd98a" stroke-width="0.8"/>
<line x1="331.29" y1="446.38" x2="331.29" y2="463.88" stroke="#bcd98a" stroke-width="0.8"/>
<line x1="329.49" y1="446.38" x2="333.09" y2="446.38" stroke="#bcd98a" stroke-width="0.8"/>
<line x1="329.49" y1="463.88" x2="333.09" y2="463.88" stroke="#bcd98a" stroke-width="0.8"/>
<line x1="338.28" y1="441.12" x2="338.28" y2="458.62" stroke="#bcd98a" stroke-width="0.8"/>
<line x1="336.48" y1="441.12" x2="340.08" y2="441.12" stroke="#bcd98a" stroke-width="0.8"/>
<line x1="336.48" y1="458.62" x2="340.08" y2="458.62" stroke="#bcd98a" stroke-width="0.8"/>
<line x1="345.27" y1="437.38" x2="345.27" y2="453.62" stroke="#bcd98a" stroke-width="0.8"/>
<line x1="343.47" y1="437.38" x2="347.07" y2="437.38" stroke="#bcd98a" stroke-width="0.8"/>
<line x1="343.47" y1="453.62" x2="347.07" y2="453.62" stroke="#bcd98a" stroke-width="0.8"/>
<line x1="352.26" y1="434.25" x2="352.26" y2="449.25" stroke="#bcd98a" stroke-width="0.8"/>
<line x1="350.46" y1="434.25" x2="354.06" y2="434.25" stroke="#bcd98a" stroke-width="0.8"/>
<line x1="350.46" y1="449.25" x2="354.06" y2="449.25" stroke="#bcd98a" stroke-width="0.8"/>
<line x1="359.25" y1="430.25" x2="359.25" y2="445.25" stroke="#bcd98a" stroke-width="0.8"/>
<line x1="357.45" y1="430.25" x2="361.05" y2="430.25" stroke="#bcd98a" stroke-width="0.8"/>
<line x1="357.45" y1="445.25" x2="361.05" y2="445.25" stroke="#bcd98a" stroke-width="0.8"/>
<line x1="366.24" y1="428.25" x2="366.24" y2="442" stroke="#bcd98a" stroke-width="0.8"/>
<line x1="364.44" y1="428.25" x2="368.04" y2="428.25" stroke="#bcd98a" stroke-width="0.8"/>
<line x1="364.44" y1="442" x2="368.04" y2="442" stroke="#bcd98a" stroke-width="0.8"/>
<line x1="373.23" y1="426.75" x2="373.23" y2="439.25" stroke="#bcd98a" stroke-width="0.8"/>
<line x1="371.43" y1="426.75" x2="375.03" y2="426.75" stroke="#bcd98a" stroke-width="0.8"/>
<line x1="371.43" y1="439.25" x2="375.03" y2="439.25" stroke="#bcd98a" stroke-width="0.8"/>
<line x1="380.22" y1="425.12" x2="380.22" y2="437.62" stroke="#bcd98a" stroke-width="0.8"/>
<line x1="378.42" y1="425.12" x2="382.02" y2="425.12" stroke="#bcd98a" stroke-width="0.8"/>
<line x1="378.42" y1="437.62" x2="382.02" y2="437.62" stroke="#bcd98a" stroke-width="0.8"/>
<line x1="387.21" y1="423.75" x2="387.21" y2="436.25" stroke="#bcd98a" stroke-width="0.8"/>
<line x1="385.41" y1="423.75" x2="389.01" y2="423.75" stroke="#bcd98a" stroke-width="0.8"/>
<line x1="385.41" y1="436.25" x2="389.01" y2="436.25" stroke="#bcd98a" stroke-width="0.8"/>
<line x1="394.2" y1="422.5" x2="394.2" y2="433.75" stroke="#bcd98a" stroke-width="0.8"/>
<line x1="392.4" y1="422.5" x2="396" y2="422.5" stroke="#bcd98a" stroke-width="0.8"/>
<line x1="392.4" y1="433.75" x2="396" y2="433.75" stroke="#bcd98a" stroke-width="0.8"/>
<line x1="401.19" y1="421.75" x2="401.19" y2="433" stroke="#bcd98a" stroke-width="0.8"/>
<line x1="399.39" y1="421.75" x2="402.99" y2="421.75" stroke="#bcd98a" stroke-width="0.8"/>
<line x1="399.39" y1="433" x2="402.99" y2="433" stroke="#bcd98a" stroke-width="0.8"/>
<line x1="408.18" y1="420.5" x2="408.18" y2="431.75" stroke="#bcd98a" stroke-width="0.8"/>
<line x1="406.38" y1="420.5" x2="409.98" y2="420.5" stroke="#bcd98a" stroke-width="0.8"/>
<line x1="406.38" y1="431.75" x2="409.98" y2="431.75" stroke="#bcd98a" stroke-width="0.8"/>
<line x1="415.17" y1="419.5" x2="415.17" y2="430.75" stroke="#bcd98a" stroke-width="0.8"/>
<line x1="413.37" y1="419.5" x2="416.97" y2="419.5" stroke="#bcd98a" stroke-width="0.8"/>
<line x1="413.37" y1="430.75" x2="416.97" y2="430.75" stroke="#bcd98a" stroke-width="0.8"/>
<polyline points="254.4,530 261.39,530 268.38,529.25 275.37,526.38 282.36,521.75 289.35,511.75 296.34,499.62 303.33,487.38 310.32,470.5 317.31,464.75 324.3,459.5 331.29,455.12 338.28,449.88 345.27,445.5 352.26,441.75 359.25,437.75 366.24,435.12 373.23,433 380.22,431.38 387.21,430 394.2,428.12 401.19,427.38 408.18,426.12 415.17,425.12" fill="none" stroke="#b7d96f" stroke-width="0.8" stroke-linejoin="round"/>
<line x1="282.36" y1="514" x2="282.36" y2="519" stroke="#222" stroke-width="0.8"/>
<line x1="280.56" y1="514" x2="284.16" y2="514" stroke="#222" stroke-width="0.8"/>
<line x1="280.56" y1="519" x2="284.16" y2="519" stroke="#222" stroke-width="0.8"/>
<line x1="289.35" y1="503.25" x2="289.35" y2="510.75" stroke="#222" stroke-width="0.8"/>
<line x1="287.55" y1="503.25" x2="291.15" y2="503.25" stroke="#222" stroke-width="0.8"/>
<line x1="287.55" y1="510.75" x2="291.15" y2="510.75" stroke="#222" stroke-width="0.8"/>
<line x1="296.34" y1="491.38" x2="296.34" y2="501.38" stroke="#222" stroke-width="0.8"/>
<line x1="294.54" y1="491.38" x2="298.14" y2="491.38" stroke="#222" stroke-width="0.8"/>
<line x1="294.54" y1="501.38" x2="298.14" y2="501.38" stroke="#222" stroke-width="0.8"/>
<line x1="303.33" y1="478.5" x2="303.33" y2="488.5" stroke="#222" stroke-width="0.8"/>
<line x1="301.53" y1="478.5" x2="305.13" y2="478.5" stroke="#222" stroke-width="0.8"/>
<line x1="301.53" y1="488.5" x2="305.13" y2="488.5" stroke="#222" stroke-width="0.8"/>
<line x1="310.32" y1="472.88" x2="310.32" y2="481.62" stroke="#222" stroke-width="0.8"/>
<line x1="308.52" y1="472.88" x2="312.12" y2="472.88" stroke="#222" stroke-width="0.8"/>
<line x1="308.52" y1="481.62" x2="312.12" y2="481.62" stroke="#222" stroke-width="0.8"/>
<line x1="317.31" y1="467.88" x2="317.31" y2="475.38" stroke="#222" stroke-width="0.8"/>
<line x1="315.51" y1="467.88" x2="319.11" y2="467.88" stroke="#222" stroke-width="0.8"/>
<line x1="315.51" y1="475.38" x2="319.11" y2="475.38" stroke="#222" stroke-width="0.8"/>
<line x1="324.3" y1="462.75" x2="324.3" y2="470.25" stroke="#222" stroke-width="0.8"/>
<line x1="322.5" y1="462.75" x2="326.1" y2="462.75" stroke="#222" stroke-width="0.8"/>
<line x1="322.5" y1="470.25" x2="326.1" y2="470.25" stroke="#222" stroke-width="0.8"/>
<line x1="331.29" y1="456.62" x2="331.29" y2="464.12" stroke="#222" stroke-width="0.8"/>
<line x1="329.49" y1="456.62" x2="333.09" y2="456.62" stroke="#222" stroke-width="0.8"/>
<line x1="329.49" y1="464.12" x2="333.09" y2="464.12" stroke="#222" stroke-width="0.8"/>
<line x1="338.28" y1="451.88" x2="338.28" y2="459.38" stroke="#222" stroke-width="0.8"/>
<line x1="336.48" y1="451.88" x2="340.08" y2="451.88" stroke="#222" stroke-width="0.8"/>
<line x1="336.48" y1="459.38" x2="340.08" y2="459.38" stroke="#222" stroke-width="0.8"/>
<line x1="345.27" y1="448" x2="345.27" y2="455.5" stroke="#222" stroke-width="0.8"/>
<line x1="343.47" y1="448" x2="347.07" y2="448" stroke="#222" stroke-width="0.8"/>
<line x1="343.47" y1="455.5" x2="347.07" y2="455.5" stroke="#222" stroke-width="0.8"/>
<line x1="352.26" y1="445.38" x2="352.26" y2="452.88" stroke="#222" stroke-width="0.8"/>
<line x1="350.46" y1="445.38" x2="354.06" y2="445.38" stroke="#222" stroke-width="0.8"/>
<line x1="350.46" y1="452.88" x2="354.06" y2="452.88" stroke="#222" stroke-width="0.8"/>
<line x1="359.25" y1="443.62" x2="359.25" y2="451.12" stroke="#222" stroke-width="0.8"/>
<line x1="357.45" y1="443.62" x2="361.05" y2="443.62" stroke="#222" stroke-width="0.8"/>
<line x1="357.45" y1="451.12" x2="361.05" y2="451.12" stroke="#222" stroke-width="0.8"/>
<line x1="366.24" y1="442.25" x2="366.24" y2="449.75" stroke="#222" stroke-width="0.8"/>
<line x1="364.44" y1="442.25" x2="368.04" y2="442.25" stroke="#222" stroke-width="0.8"/>
<line x1="364.44" y1="449.75" x2="368.04" y2="449.75" stroke="#222" stroke-width="0.8"/>
<line x1="373.23" y1="441" x2="373.23" y2="448.5" stroke="#222" stroke-width="0.8"/>
<line x1="371.43" y1="441" x2="375.03" y2="441" stroke="#222" stroke-width="0.8"/>
<line x1="371.43" y1="448.5" x2="375.03" y2="448.5" stroke="#222" stroke-width="0.8"/>
<line x1="380.22" y1="439.25" x2="380.22" y2="446.75" stroke="#222" stroke-width="0.8"/>
<line x1="378.42" y1="439.25" x2="382.02" y2="439.25" stroke="#222" stroke-width="0.8"/>
<line x1="378.42" y1="446.75" x2="382.02" y2="446.75" stroke="#222" stroke-width="0.8"/>
<line x1="387.21" y1="438.38" x2="387.21" y2="445.88" stroke="#222" stroke-width="0.8"/>
<line x1="385.41" y1="438.38" x2="389.01" y2="438.38" stroke="#222" stroke-width="0.8"/>
<line x1="385.41" y1="445.88" x2="389.01" y2="445.88" stroke="#222" stroke-width="0.8"/>
<line x1="394.2" y1="437.5" x2="394.2" y2="445" stroke="#222" stroke-width="0.8"/>
<line x1="392.4" y1="437.5" x2="396" y2="437.5" stroke="#222" stroke-width="0.8"/>
<line x1="392.4" y1="445" x2="396" y2="445" stroke="#222" stroke-width="0.8"/>
<line x1="401.19" y1="436.62" x2="401.19" y2="444.12" stroke="#222" stroke-width="0.8"/>
<line x1="399.39" y1="436.62" x2="402.99" y2="436.62" stroke="#222" stroke-width="0.8"/>
<line x1="399.39" y1="444.12" x2="402.99" y2="444.12" stroke="#222" stroke-width="0.8"/>
<line x1="408.18" y1="435.75" x2="408.18" y2="443.25" stroke="#222" stroke-width="0.8"/>
<line x1="406.38" y1="435.75" x2="409.98" y2="435.75" stroke="#222" stroke-width="0.8"/>
<line x1="406.38" y1="443.25" x2="409.98" y2="443.25" stroke="#222" stroke-width="0.8"/>
<line x1="415.17" y1="434.5" x2="415.17" y2="442" stroke="#222" stroke-width="0.8"/>
<line x1="413.37" y1="434.5" x2="416.97" y2="434.5" stroke="#222" stroke-width="0.8"/>
<line x1="413.37" y1="442" x2="416.97" y2="442" stroke="#222" stroke-width="0.8"/>
<polyline points="254.4,529.25 261.39,529.62 268.38,527.5 275.37,523.88 282.36,516.5 289.35,507 296.34,496.38 303.33,483.5 310.32,477.25 317.31,471.62 324.3,466.5 331.29,460.38 338.28,455.62 345.27,451.75 352.26,449.12 359.25,447.38 366.24,446 373.23,444.75 380.22,443 387.21,442.12 394.2,441.25 401.19,440.38 408.18,439.5 415.17,438.25" fill="none" stroke="#111" stroke-width="0.8" stroke-linejoin="round"/>
<circle cx="254.4" cy="530" r="1.7" fill="#8a8a8a" stroke="#8a8a8a" stroke-width="0.3"/>
<circle cx="261.39" cy="530" r="1.7" fill="#8a8a8a" stroke="#8a8a8a" stroke-width="0.3"/>
<circle cx="268.38" cy="529.62" r="1.7" fill="#8a8a8a" stroke="#8a8a8a" stroke-width="0.3"/>
<circle cx="275.37" cy="528.5" r="1.7" fill="#8a8a8a" stroke="#8a8a8a" stroke-width="0.3"/>
<circle cx="282.36" cy="526.62" r="1.7" fill="#8a8a8a" stroke="#8a8a8a" stroke-width="0.3"/>
<circle cx="289.35" cy="520.25" r="1.7" fill="#8a8a8a" stroke="#8a8a8a" stroke-width="0.3"/>
<circle cx="296.34" cy="509.75" r="1.7" fill="#8a8a8a" stroke="#8a8a8a" stroke-width="0.3"/>
<circle cx="303.33" cy="496.88" r="1.7" fill="#8a8a8a" stroke="#8a8a8a" stroke-width="0.3"/>
<circle cx="310.32" cy="481.25" r="1.7" fill="#8a8a8a" stroke="#8a8a8a" stroke-width="0.3"/>
<circle cx="317.31" cy="474" r="1.7" fill="#8a8a8a" stroke="#8a8a8a" stroke-width="0.3"/>
<circle cx="324.3" cy="468.38" r="1.7" fill="#8a8a8a" stroke="#8a8a8a" stroke-width="0.3"/>
<circle cx="331.29" cy="463" r="1.7" fill="#8a8a8a" stroke="#8a8a8a" stroke-width="0.3"/>
<circle cx="338.28" cy="458" r="1.7" fill="#8a8a8a" stroke="#8a8a8a" stroke-width="0.3"/>
<circle cx="345.27" cy="453.62" r="1.7" fill="#8a8a8a" stroke="#8a8a8a" stroke-width="0.3"/>
<circle cx="352.26" cy="450.5" r="1.7" fill="#8a8a8a" stroke="#8a8a8a" stroke-width="0.3"/>
<circle cx="359.25" cy="448" r="1.7" fill="#8a8a8a" stroke="#8a8a8a" stroke-width="0.3"/>
<circle cx="366.24" cy="446.12" r="1.7" fill="#8a8a8a" stroke="#8a8a8a" stroke-width="0.3"/>
<circle cx="373.23" cy="444.5" r="1.7" fill="#8a8a8a" stroke="#8a8a8a" stroke-width="0.3"/>
<circle cx="380.22" cy="442.75" r="1.7" fill="#8a8a8a" stroke="#8a8a8a" stroke-width="0.3"/>
<circle cx="387.21" cy="441.5" r="1.7" fill="#8a8a8a" stroke="#8a8a8a" stroke-width="0.3"/>
<circle cx="394.2" cy="440.25" r="1.7" fill="#8a8a8a" stroke="#8a8a8a" stroke-width="0.3"/>
<circle cx="401.19" cy="439" r="1.7" fill="#8a8a8a" stroke="#8a8a8a" stroke-width="0.3"/>
<circle cx="408.18" cy="437.75" r="1.7" fill="#8a8a8a" stroke="#8a8a8a" stroke-width="0.3"/>
<circle cx="415.17" cy="436" r="1.7" fill="#8a8a8a" stroke="#8a8a8a" stroke-width="0.3"/>
<rect x="252.8" y="528.4" width="3.2" height="3.2" fill="#b7d96f"/>
<rect x="259.79" y="528.4" width="3.2" height="3.2" fill="#b7d96f"/>
<rect x="266.78" y="527.65" width="3.2" height="3.2" fill="#b7d96f"/>
<rect x="273.77" y="524.77" width="3.2" height="3.2" fill="#b7d96f"/>
<rect x="280.76" y="520.15" width="3.2" height="3.2" fill="#b7d96f"/>
<rect x="287.75" y="510.15" width="3.2" height="3.2" fill="#b7d96f"/>
<rect x="294.74" y="498.02" width="3.2" height="3.2" fill="#b7d96f"/>
<rect x="301.73" y="485.77" width="3.2" height="3.2" fill="#b7d96f"/>
<rect x="308.72" y="468.9" width="3.2" height="3.2" fill="#b7d96f"/>
<rect x="315.71" y="463.15" width="3.2" height="3.2" fill="#b7d96f"/>
<rect x="322.7" y="457.9" width="3.2" height="3.2" fill="#b7d96f"/>
<rect x="329.69" y="453.52" width="3.2" height="3.2" fill="#b7d96f"/>
<rect x="336.68" y="448.27" width="3.2" height="3.2" fill="#b7d96f"/>
<rect x="343.67" y="443.9" width="3.2" height="3.2" fill="#b7d96f"/>
<rect x="350.66" y="440.15" width="3.2" height="3.2" fill="#b7d96f"/>
<rect x="357.65" y="436.15" width="3.2" height="3.2" fill="#b7d96f"/>
<rect x="364.64" y="433.52" width="3.2" height="3.2" fill="#b7d96f"/>
<rect x="371.63" y="431.4" width="3.2" height="3.2" fill="#b7d96f"/>
<rect x="378.62" y="429.77" width="3.2" height="3.2" fill="#b7d96f"/>
<rect x="385.61" y="428.4" width="3.2" height="3.2" fill="#b7d96f"/>
<rect x="392.6" y="426.52" width="3.2" height="3.2" fill="#b7d96f"/>
<rect x="399.59" y="425.77" width="3.2" height="3.2" fill="#b7d96f"/>
<rect x="406.58" y="424.52" width="3.2" height="3.2" fill="#b7d96f"/>
<rect x="413.57" y="423.52" width="3.2" height="3.2" fill="#b7d96f"/>
<circle cx="254.4" cy="529.25" r="2" fill="#111" stroke="#111" stroke-width="0.3"/>
<circle cx="261.39" cy="529.62" r="2" fill="#111" stroke="#111" stroke-width="0.3"/>
<circle cx="268.38" cy="527.5" r="2" fill="#111" stroke="#111" stroke-width="0.3"/>
<circle cx="275.37" cy="523.88" r="2" fill="#111" stroke="#111" stroke-width="0.3"/>
<circle cx="282.36" cy="516.5" r="2" fill="#111" stroke="#111" stroke-width="0.3"/>
<circle cx="289.35" cy="507" r="2" fill="#111" stroke="#111" stroke-width="0.3"/>
<circle cx="296.34" cy="496.38" r="2" fill="#111" stroke="#111" stroke-width="0.3"/>
<circle cx="303.33" cy="483.5" r="2" fill="#111" stroke="#111" stroke-width="0.3"/>
<circle cx="310.32" cy="477.25" r="2" fill="#111" stroke="#111" stroke-width="0.3"/>
<circle cx="317.31" cy="471.62" r="2" fill="#111" stroke="#111" stroke-width="0.3"/>
<circle cx="324.3" cy="466.5" r="2" fill="#111" stroke="#111" stroke-width="0.3"/>
<circle cx="331.29" cy="460.38" r="2" fill="#111" stroke="#111" stroke-width="0.3"/>
<circle cx="338.28" cy="455.62" r="2" fill="#111" stroke="#111" stroke-width="0.3"/>
<circle cx="345.27" cy="451.75" r="2" fill="#111" stroke="#111" stroke-width="0.3"/>
<circle cx="352.26" cy="449.12" r="2" fill="#111" stroke="#111" stroke-width="0.3"/>
<circle cx="359.25" cy="447.38" r="2" fill="#111" stroke="#111" stroke-width="0.3"/>
<circle cx="366.24" cy="446" r="2" fill="#111" stroke="#111" stroke-width="0.3"/>
<circle cx="373.23" cy="444.75" r="2" fill="#111" stroke="#111" stroke-width="0.3"/>
<circle cx="380.22" cy="443" r="2" fill="#111" stroke="#111" stroke-width="0.3"/>
<circle cx="387.21" cy="442.12" r="2" fill="#111" stroke="#111" stroke-width="0.3"/>
<circle cx="394.2" cy="441.25" r="2" fill="#111" stroke="#111" stroke-width="0.3"/>
<circle cx="401.19" cy="440.38" r="2" fill="#111" stroke="#111" stroke-width="0.3"/>
<circle cx="408.18" cy="439.5" r="2" fill="#111" stroke="#111" stroke-width="0.3"/>
<circle cx="415.17" cy="438.25" r="2" fill="#111" stroke="#111" stroke-width="0.3"/>
<line x1="326.6" y1="499.9" x2="335.8" y2="499.9" stroke="#777" stroke-width="0.8"/>
<circle cx="331.2" cy="499.9" r="1.5" fill="#111" stroke="#111" stroke-width="0.2"/>
<text x="338.2" y="503" font-size="8.7" fill="#1a1a1a">WT</text>
<line x1="326.6" y1="513.2" x2="335.8" y2="513.2" stroke="#aaa" stroke-width="0.8"/>
<circle cx="331.2" cy="513.2" r="1.5" fill="#888" stroke="#888" stroke-width="0.2"/>
<text x="338.2" y="516.3" font-size="8.7" fill="#1a1a1a">TC</text>
<line x1="326.6" y1="526.5" x2="335.8" y2="526.5" stroke="#bfdc85" stroke-width="0.8"/>
<circle cx="331.2" cy="526.5" r="1.5" fill="#b7d96f" stroke="#b7d96f" stroke-width="0.2"/>
<text x="338.2" y="529.6" font-size="8.7" fill="#1a1a1a">WT+p<tspan font-style="italic">mcr-1</tspan>+p<tspan font-style="italic">ecaR</tspan></text>
<line x1="421.3" y1="425" x2="421.3" y2="440.5" stroke="#333" stroke-width="0.9"/>
<line x1="420.1" y1="425" x2="421.3" y2="425" stroke="#333" stroke-width="0.9"/>
<line x1="420.1" y1="440.5" x2="421.3" y2="440.5" stroke="#333" stroke-width="0.9"/>
<text x="423.1" y="432.4" font-size="8.6" text-anchor="middle" fill="#1a1a1a" transform="rotate(90 423.1 432.4)">ns</text>
<line x1="460" y1="413.5" x2="629.8" y2="413.5" stroke="#333333" stroke-width="1.1"/>
<line x1="460.5" y1="413" x2="460.5" y2="539" stroke="#333333" stroke-width="1"/>
<line x1="460" y1="538.5" x2="629.8" y2="538.5" stroke="#333333" stroke-width="1.1"/>
<line x1="456" y1="538.5" x2="460.5" y2="538.5" stroke="#333333" stroke-width="1"/>
<text x="454.6" y="542.2" font-size="9.2" text-anchor="end" fill="#1a1a1a">0</text>
<line x1="456" y1="513.5" x2="460.5" y2="513.5" stroke="#333333" stroke-width="1"/>
<text x="454.6" y="517.2" font-size="9.2" text-anchor="end" fill="#1a1a1a">0.2</text>
<line x1="456" y1="488.5" x2="460.5" y2="488.5" stroke="#333333" stroke-width="1"/>
<text x="454.6" y="492.2" font-size="9.2" text-anchor="end" fill="#1a1a1a">0.4</text>
<line x1="456" y1="463.5" x2="460.5" y2="463.5" stroke="#333333" stroke-width="1"/>
<text x="454.6" y="467.2" font-size="9.2" text-anchor="end" fill="#1a1a1a">0.6</text>
<line x1="456" y1="438.5" x2="460.5" y2="438.5" stroke="#333333" stroke-width="1"/>
<text x="454.6" y="442.2" font-size="9.2" text-anchor="end" fill="#1a1a1a">0.8</text>
<line x1="456" y1="413.5" x2="460.5" y2="413.5" stroke="#333333" stroke-width="1"/>
<text x="454.6" y="417.2" font-size="9.2" text-anchor="end" fill="#1a1a1a">1.0</text>
<line x1="460.5" y1="538.5" x2="460.5" y2="543.5" stroke="#333333" stroke-width="1"/>
<text x="460.5" y="552.1" font-size="9.2" text-anchor="middle" fill="#1a1a1a">0</text>
<line x1="516.9" y1="538.5" x2="516.9" y2="543.5" stroke="#333333" stroke-width="1"/>
<text x="516.9" y="552.1" font-size="9.2" text-anchor="middle" fill="#1a1a1a">4</text>
<line x1="573.3" y1="538.5" x2="573.3" y2="543.5" stroke="#333333" stroke-width="1"/>
<text x="573.3" y="552.1" font-size="9.2" text-anchor="middle" fill="#1a1a1a">8</text>
<line x1="629.7" y1="538.5" x2="629.7" y2="543.5" stroke="#333333" stroke-width="1"/>
<text x="629.7" y="552.1" font-size="9.2" text-anchor="middle" fill="#1a1a1a">12</text>
<line x1="629.8" y1="413" x2="629.8" y2="543.5" stroke="#9c9c9c" stroke-width="1.5"/>
<text x="545.8" y="562.3" font-size="8.9" text-anchor="middle" fill="#1a1a1a">Time (h)</text>
<text x="544.7" y="409.1" font-size="9" text-anchor="middle" fill="#1a1a1a">0.05% bile salts</text>
<text transform="translate(438.4 476) rotate(-90)" font-size="10.3" fill="#1a1a1a" text-anchor="middle">OD<tspan font-size="6.8" dy="2.6">600</tspan></text>
<line x1="492.4" y1="525.75" x2="492.4" y2="529.5" stroke="#a0a0a0" stroke-width="0.8"/>
<line x1="490.6" y1="525.75" x2="494.2" y2="525.75" stroke="#a0a0a0" stroke-width="0.8"/>
<line x1="490.6" y1="529.5" x2="494.2" y2="529.5" stroke="#a0a0a0" stroke-width="0.8"/>
<line x1="499.45" y1="516.38" x2="499.45" y2="522.62" stroke="#a0a0a0" stroke-width="0.8"/>
<line x1="497.65" y1="516.38" x2="501.25" y2="516.38" stroke="#a0a0a0" stroke-width="0.8"/>
<line x1="497.65" y1="522.62" x2="501.25" y2="522.62" stroke="#a0a0a0" stroke-width="0.8"/>
<line x1="506.5" y1="501.75" x2="506.5" y2="511.75" stroke="#a0a0a0" stroke-width="0.8"/>
<line x1="504.7" y1="501.75" x2="508.3" y2="501.75" stroke="#a0a0a0" stroke-width="0.8"/>
<line x1="504.7" y1="511.75" x2="508.3" y2="511.75" stroke="#a0a0a0" stroke-width="0.8"/>
<line x1="513.55" y1="480.88" x2="513.55" y2="493.38" stroke="#a0a0a0" stroke-width="0.8"/>
<line x1="511.75" y1="480.88" x2="515.35" y2="480.88" stroke="#a0a0a0" stroke-width="0.8"/>
<line x1="511.75" y1="493.38" x2="515.35" y2="493.38" stroke="#a0a0a0" stroke-width="0.8"/>
<line x1="520.6" y1="471.12" x2="520.6" y2="481.12" stroke="#a0a0a0" stroke-width="0.8"/>
<line x1="518.8" y1="471.12" x2="522.4" y2="471.12" stroke="#a0a0a0" stroke-width="0.8"/>
<line x1="518.8" y1="481.12" x2="522.4" y2="481.12" stroke="#a0a0a0" stroke-width="0.8"/>
<line x1="527.65" y1="456.5" x2="527.65" y2="466.5" stroke="#a0a0a0" stroke-width="0.8"/>
<line x1="525.85" y1="456.5" x2="529.45" y2="456.5" stroke="#a0a0a0" stroke-width="0.8"/>
<line x1="525.85" y1="466.5" x2="529.45" y2="466.5" stroke="#a0a0a0" stroke-width="0.8"/>
<line x1="534.7" y1="449.12" x2="534.7" y2="461.62" stroke="#a0a0a0" stroke-width="0.8"/>
<line x1="532.9" y1="449.12" x2="536.5" y2="449.12" stroke="#a0a0a0" stroke-width="0.8"/>
<line x1="532.9" y1="461.62" x2="536.5" y2="461.62" stroke="#a0a0a0" stroke-width="0.8"/>
<line x1="541.75" y1="442.25" x2="541.75" y2="457.25" stroke="#a0a0a0" stroke-width="0.8"/>
<line x1="539.95" y1="442.25" x2="543.55" y2="442.25" stroke="#a0a0a0" stroke-width="0.8"/>
<line x1="539.95" y1="457.25" x2="543.55" y2="457.25" stroke="#a0a0a0" stroke-width="0.8"/>
<line x1="548.8" y1="437.5" x2="548.8" y2="455" stroke="#a0a0a0" stroke-width="0.8"/>
<line x1="547" y1="437.5" x2="550.6" y2="437.5" stroke="#a0a0a0" stroke-width="0.8"/>
<line x1="547" y1="455" x2="550.6" y2="455" stroke="#a0a0a0" stroke-width="0.8"/>
<line x1="555.85" y1="433.88" x2="555.85" y2="452.62" stroke="#a0a0a0" stroke-width="0.8"/>
<line x1="554.05" y1="433.88" x2="557.65" y2="433.88" stroke="#a0a0a0" stroke-width="0.8"/>
<line x1="554.05" y1="452.62" x2="557.65" y2="452.62" stroke="#a0a0a0" stroke-width="0.8"/>
<line x1="562.9" y1="430.5" x2="562.9" y2="449.25" stroke="#a0a0a0" stroke-width="0.8"/>
<line x1="561.1" y1="430.5" x2="564.7" y2="430.5" stroke="#a0a0a0" stroke-width="0.8"/>
<line x1="561.1" y1="449.25" x2="564.7" y2="449.25" stroke="#a0a0a0" stroke-width="0.8"/>
<line x1="569.95" y1="428.62" x2="569.95" y2="446.12" stroke="#a0a0a0" stroke-width="0.8"/>
<line x1="568.15" y1="428.62" x2="571.75" y2="428.62" stroke="#a0a0a0" stroke-width="0.8"/>
<line x1="568.15" y1="446.12" x2="571.75" y2="446.12" stroke="#a0a0a0" stroke-width="0.8"/>
<line x1="577" y1="426.12" x2="577" y2="443.62" stroke="#a0a0a0" stroke-width="0.8"/>
<line x1="575.2" y1="426.12" x2="578.8" y2="426.12" stroke="#a0a0a0" stroke-width="0.8"/>
<line x1="575.2" y1="443.62" x2="578.8" y2="443.62" stroke="#a0a0a0" stroke-width="0.8"/>
<line x1="584.05" y1="424.75" x2="584.05" y2="442.25" stroke="#a0a0a0" stroke-width="0.8"/>
<line x1="582.25" y1="424.75" x2="585.85" y2="424.75" stroke="#a0a0a0" stroke-width="0.8"/>
<line x1="582.25" y1="442.25" x2="585.85" y2="442.25" stroke="#a0a0a0" stroke-width="0.8"/>
<line x1="591.1" y1="423.5" x2="591.1" y2="439.75" stroke="#a0a0a0" stroke-width="0.8"/>
<line x1="589.3" y1="423.5" x2="592.9" y2="423.5" stroke="#a0a0a0" stroke-width="0.8"/>
<line x1="589.3" y1="439.75" x2="592.9" y2="439.75" stroke="#a0a0a0" stroke-width="0.8"/>
<line x1="598.15" y1="422" x2="598.15" y2="438.25" stroke="#a0a0a0" stroke-width="0.8"/>
<line x1="596.35" y1="422" x2="599.95" y2="422" stroke="#a0a0a0" stroke-width="0.8"/>
<line x1="596.35" y1="438.25" x2="599.95" y2="438.25" stroke="#a0a0a0" stroke-width="0.8"/>
<line x1="605.2" y1="421.25" x2="605.2" y2="436.25" stroke="#a0a0a0" stroke-width="0.8"/>
<line x1="603.4" y1="421.25" x2="607" y2="421.25" stroke="#a0a0a0" stroke-width="0.8"/>
<line x1="603.4" y1="436.25" x2="607" y2="436.25" stroke="#a0a0a0" stroke-width="0.8"/>
<line x1="612.25" y1="419.75" x2="612.25" y2="434.75" stroke="#a0a0a0" stroke-width="0.8"/>
<line x1="610.45" y1="419.75" x2="614.05" y2="419.75" stroke="#a0a0a0" stroke-width="0.8"/>
<line x1="610.45" y1="434.75" x2="614.05" y2="434.75" stroke="#a0a0a0" stroke-width="0.8"/>
<line x1="619.3" y1="418.25" x2="619.3" y2="433.25" stroke="#a0a0a0" stroke-width="0.8"/>
<line x1="617.5" y1="418.25" x2="621.1" y2="418.25" stroke="#a0a0a0" stroke-width="0.8"/>
<line x1="617.5" y1="433.25" x2="621.1" y2="433.25" stroke="#a0a0a0" stroke-width="0.8"/>
<line x1="626.35" y1="416.88" x2="626.35" y2="431.88" stroke="#a0a0a0" stroke-width="0.8"/>
<line x1="624.55" y1="416.88" x2="628.15" y2="416.88" stroke="#a0a0a0" stroke-width="0.8"/>
<line x1="624.55" y1="431.88" x2="628.15" y2="431.88" stroke="#a0a0a0" stroke-width="0.8"/>
<polyline points="464.2,533.5 471.25,533.5 478.3,532.88 485.35,531.25 492.4,527.62 499.45,519.5 506.5,506.75 513.55,487.12 520.6,476.12 527.65,461.5 534.7,455.38 541.75,449.75 548.8,446.25 555.85,443.25 562.9,439.88 569.95,437.38 577,434.88 584.05,433.5 591.1,431.62 598.15,430.12 605.2,428.75 612.25,427.25 619.3,425.75 626.35,424.38" fill="none" stroke="#8a8a8a" stroke-width="0.8" stroke-linejoin="round"/>
<line x1="492.4" y1="522.25" x2="492.4" y2="527.25" stroke="#bcd98a" stroke-width="0.8"/>
<line x1="490.6" y1="522.25" x2="494.2" y2="522.25" stroke="#bcd98a" stroke-width="0.8"/>
<line x1="490.6" y1="527.25" x2="494.2" y2="527.25" stroke="#bcd98a" stroke-width="0.8"/>
<line x1="499.45" y1="511" x2="499.45" y2="518.5" stroke="#bcd98a" stroke-width="0.8"/>
<line x1="497.65" y1="511" x2="501.25" y2="511" stroke="#bcd98a" stroke-width="0.8"/>
<line x1="497.65" y1="518.5" x2="501.25" y2="518.5" stroke="#bcd98a" stroke-width="0.8"/>
<line x1="506.5" y1="496" x2="506.5" y2="506" stroke="#bcd98a" stroke-width="0.8"/>
<line x1="504.7" y1="496" x2="508.3" y2="496" stroke="#bcd98a" stroke-width="0.8"/>
<line x1="504.7" y1="506" x2="508.3" y2="506" stroke="#bcd98a" stroke-width="0.8"/>
<line x1="513.55" y1="474.75" x2="513.55" y2="484.75" stroke="#bcd98a" stroke-width="0.8"/>
<line x1="511.75" y1="474.75" x2="515.35" y2="474.75" stroke="#bcd98a" stroke-width="0.8"/>
<line x1="511.75" y1="484.75" x2="515.35" y2="484.75" stroke="#bcd98a" stroke-width="0.8"/>
<line x1="520.6" y1="461.25" x2="520.6" y2="471.25" stroke="#bcd98a" stroke-width="0.8"/>
<line x1="518.8" y1="461.25" x2="522.4" y2="461.25" stroke="#bcd98a" stroke-width="0.8"/>
<line x1="518.8" y1="471.25" x2="522.4" y2="471.25" stroke="#bcd98a" stroke-width="0.8"/>
<line x1="527.65" y1="453.62" x2="527.65" y2="463.62" stroke="#bcd98a" stroke-width="0.8"/>
<line x1="525.85" y1="453.62" x2="529.45" y2="453.62" stroke="#bcd98a" stroke-width="0.8"/>
<line x1="525.85" y1="463.62" x2="529.45" y2="463.62" stroke="#bcd98a" stroke-width="0.8"/>
<line x1="534.7" y1="449.5" x2="534.7" y2="459.5" stroke="#bcd98a" stroke-width="0.8"/>
<line x1="532.9" y1="449.5" x2="536.5" y2="449.5" stroke="#bcd98a" stroke-width="0.8"/>
<line x1="532.9" y1="459.5" x2="536.5" y2="459.5" stroke="#bcd98a" stroke-width="0.8"/>
<line x1="541.75" y1="444.75" x2="541.75" y2="454.75" stroke="#bcd98a" stroke-width="0.8"/>
<line x1="539.95" y1="444.75" x2="543.55" y2="444.75" stroke="#bcd98a" stroke-width="0.8"/>
<line x1="539.95" y1="454.75" x2="543.55" y2="454.75" stroke="#bcd98a" stroke-width="0.8"/>
<line x1="548.8" y1="441.25" x2="548.8" y2="452.5" stroke="#bcd98a" stroke-width="0.8"/>
<line x1="547" y1="441.25" x2="550.6" y2="441.25" stroke="#bcd98a" stroke-width="0.8"/>
<line x1="547" y1="452.5" x2="550.6" y2="452.5" stroke="#bcd98a" stroke-width="0.8"/>
<line x1="555.85" y1="438.5" x2="555.85" y2="451" stroke="#bcd98a" stroke-width="0.8"/>
<line x1="554.05" y1="438.5" x2="557.65" y2="438.5" stroke="#bcd98a" stroke-width="0.8"/>
<line x1="554.05" y1="451" x2="557.65" y2="451" stroke="#bcd98a" stroke-width="0.8"/>
<line x1="562.9" y1="435.88" x2="562.9" y2="449.62" stroke="#bcd98a" stroke-width="0.8"/>
<line x1="561.1" y1="435.88" x2="564.7" y2="435.88" stroke="#bcd98a" stroke-width="0.8"/>
<line x1="561.1" y1="449.62" x2="564.7" y2="449.62" stroke="#bcd98a" stroke-width="0.8"/>
<line x1="569.95" y1="434.25" x2="569.95" y2="449.25" stroke="#bcd98a" stroke-width="0.8"/>
<line x1="568.15" y1="434.25" x2="571.75" y2="434.25" stroke="#bcd98a" stroke-width="0.8"/>
<line x1="568.15" y1="449.25" x2="571.75" y2="449.25" stroke="#bcd98a" stroke-width="0.8"/>
<line x1="577" y1="432.75" x2="577" y2="447.75" stroke="#bcd98a" stroke-width="0.8"/>
<line x1="575.2" y1="432.75" x2="578.8" y2="432.75" stroke="#bcd98a" stroke-width="0.8"/>
<line x1="575.2" y1="447.75" x2="578.8" y2="447.75" stroke="#bcd98a" stroke-width="0.8"/>
<line x1="584.05" y1="432.38" x2="584.05" y2="447.38" stroke="#bcd98a" stroke-width="0.8"/>
<line x1="582.25" y1="432.38" x2="585.85" y2="432.38" stroke="#bcd98a" stroke-width="0.8"/>
<line x1="582.25" y1="447.38" x2="585.85" y2="447.38" stroke="#bcd98a" stroke-width="0.8"/>
<line x1="591.1" y1="431" x2="591.1" y2="446" stroke="#bcd98a" stroke-width="0.8"/>
<line x1="589.3" y1="431" x2="592.9" y2="431" stroke="#bcd98a" stroke-width="0.8"/>
<line x1="589.3" y1="446" x2="592.9" y2="446" stroke="#bcd98a" stroke-width="0.8"/>
<line x1="598.15" y1="428.5" x2="598.15" y2="443.5" stroke="#bcd98a" stroke-width="0.8"/>
<line x1="596.35" y1="428.5" x2="599.95" y2="428.5" stroke="#bcd98a" stroke-width="0.8"/>
<line x1="596.35" y1="443.5" x2="599.95" y2="443.5" stroke="#bcd98a" stroke-width="0.8"/>
<line x1="605.2" y1="427" x2="605.2" y2="442" stroke="#bcd98a" stroke-width="0.8"/>
<line x1="603.4" y1="427" x2="607" y2="427" stroke="#bcd98a" stroke-width="0.8"/>
<line x1="603.4" y1="442" x2="607" y2="442" stroke="#bcd98a" stroke-width="0.8"/>
<line x1="612.25" y1="426" x2="612.25" y2="441" stroke="#bcd98a" stroke-width="0.8"/>
<line x1="610.45" y1="426" x2="614.05" y2="426" stroke="#bcd98a" stroke-width="0.8"/>
<line x1="610.45" y1="441" x2="614.05" y2="441" stroke="#bcd98a" stroke-width="0.8"/>
<line x1="619.3" y1="424.75" x2="619.3" y2="439.75" stroke="#bcd98a" stroke-width="0.8"/>
<line x1="617.5" y1="424.75" x2="621.1" y2="424.75" stroke="#bcd98a" stroke-width="0.8"/>
<line x1="617.5" y1="439.75" x2="621.1" y2="439.75" stroke="#bcd98a" stroke-width="0.8"/>
<line x1="626.35" y1="424.12" x2="626.35" y2="439.12" stroke="#bcd98a" stroke-width="0.8"/>
<line x1="624.55" y1="424.12" x2="628.15" y2="424.12" stroke="#bcd98a" stroke-width="0.8"/>
<line x1="624.55" y1="439.12" x2="628.15" y2="439.12" stroke="#bcd98a" stroke-width="0.8"/>
<polyline points="464.2,533.5 471.25,533.5 478.3,532.5 485.35,530 492.4,524.75 499.45,514.75 506.5,501 513.55,479.75 520.6,466.25 527.65,458.62 534.7,454.5 541.75,449.75 548.8,446.88 555.85,444.75 562.9,442.75 569.95,441.75 577,440.25 584.05,439.88 591.1,438.5 598.15,436 605.2,434.5 612.25,433.5 619.3,432.25 626.35,431.62" fill="none" stroke="#b7d96f" stroke-width="0.8" stroke-linejoin="round"/>
<line x1="492.4" y1="519.12" x2="492.4" y2="524.12" stroke="#222" stroke-width="0.8"/>
<line x1="490.6" y1="519.12" x2="494.2" y2="519.12" stroke="#222" stroke-width="0.8"/>
<line x1="490.6" y1="524.12" x2="494.2" y2="524.12" stroke="#222" stroke-width="0.8"/>
<line x1="499.45" y1="507.5" x2="499.45" y2="515" stroke="#222" stroke-width="0.8"/>
<line x1="497.65" y1="507.5" x2="501.25" y2="507.5" stroke="#222" stroke-width="0.8"/>
<line x1="497.65" y1="515" x2="501.25" y2="515" stroke="#222" stroke-width="0.8"/>
<line x1="506.5" y1="492.5" x2="506.5" y2="502.5" stroke="#222" stroke-width="0.8"/>
<line x1="504.7" y1="492.5" x2="508.3" y2="492.5" stroke="#222" stroke-width="0.8"/>
<line x1="504.7" y1="502.5" x2="508.3" y2="502.5" stroke="#222" stroke-width="0.8"/>
<line x1="513.55" y1="478.12" x2="513.55" y2="488.12" stroke="#222" stroke-width="0.8"/>
<line x1="511.75" y1="478.12" x2="515.35" y2="478.12" stroke="#222" stroke-width="0.8"/>
<line x1="511.75" y1="488.12" x2="515.35" y2="488.12" stroke="#222" stroke-width="0.8"/>
<line x1="520.6" y1="470.5" x2="520.6" y2="479.25" stroke="#222" stroke-width="0.8"/>
<line x1="518.8" y1="470.5" x2="522.4" y2="470.5" stroke="#222" stroke-width="0.8"/>
<line x1="518.8" y1="479.25" x2="522.4" y2="479.25" stroke="#222" stroke-width="0.8"/>
<line x1="527.65" y1="461.88" x2="527.65" y2="470.62" stroke="#222" stroke-width="0.8"/>
<line x1="525.85" y1="461.88" x2="529.45" y2="461.88" stroke="#222" stroke-width="0.8"/>
<line x1="525.85" y1="470.62" x2="529.45" y2="470.62" stroke="#222" stroke-width="0.8"/>
<line x1="534.7" y1="456.38" x2="534.7" y2="465.12" stroke="#222" stroke-width="0.8"/>
<line x1="532.9" y1="456.38" x2="536.5" y2="456.38" stroke="#222" stroke-width="0.8"/>
<line x1="532.9" y1="465.12" x2="536.5" y2="465.12" stroke="#222" stroke-width="0.8"/>
<line x1="541.75" y1="452.75" x2="541.75" y2="461.5" stroke="#222" stroke-width="0.8"/>
<line x1="539.95" y1="452.75" x2="543.55" y2="452.75" stroke="#222" stroke-width="0.8"/>
<line x1="539.95" y1="461.5" x2="543.55" y2="461.5" stroke="#222" stroke-width="0.8"/>
<line x1="548.8" y1="451.38" x2="548.8" y2="460.12" stroke="#222" stroke-width="0.8"/>
<line x1="547" y1="451.38" x2="550.6" y2="451.38" stroke="#222" stroke-width="0.8"/>
<line x1="547" y1="460.12" x2="550.6" y2="460.12" stroke="#222" stroke-width="0.8"/>
<line x1="555.85" y1="450.5" x2="555.85" y2="459.25" stroke="#222" stroke-width="0.8"/>
<line x1="554.05" y1="450.5" x2="557.65" y2="450.5" stroke="#222" stroke-width="0.8"/>
<line x1="554.05" y1="459.25" x2="557.65" y2="459.25" stroke="#222" stroke-width="0.8"/>
<line x1="562.9" y1="450.12" x2="562.9" y2="458.88" stroke="#222" stroke-width="0.8"/>
<line x1="561.1" y1="450.12" x2="564.7" y2="450.12" stroke="#222" stroke-width="0.8"/>
<line x1="561.1" y1="458.88" x2="564.7" y2="458.88" stroke="#222" stroke-width="0.8"/>
<line x1="569.95" y1="449.5" x2="569.95" y2="458.25" stroke="#222" stroke-width="0.8"/>
<line x1="568.15" y1="449.5" x2="571.75" y2="449.5" stroke="#222" stroke-width="0.8"/>
<line x1="568.15" y1="458.25" x2="571.75" y2="458.25" stroke="#222" stroke-width="0.8"/>
<line x1="577" y1="449.12" x2="577" y2="457.88" stroke="#222" stroke-width="0.8"/>
<line x1="575.2" y1="449.12" x2="578.8" y2="449.12" stroke="#222" stroke-width="0.8"/>
<line x1="575.2" y1="457.88" x2="578.8" y2="457.88" stroke="#222" stroke-width="0.8"/>
<line x1="584.05" y1="449.12" x2="584.05" y2="457.88" stroke="#222" stroke-width="0.8"/>
<line x1="582.25" y1="449.12" x2="585.85" y2="449.12" stroke="#222" stroke-width="0.8"/>
<line x1="582.25" y1="457.88" x2="585.85" y2="457.88" stroke="#222" stroke-width="0.8"/>
<line x1="591.1" y1="448.12" x2="591.1" y2="456.88" stroke="#222" stroke-width="0.8"/>
<line x1="589.3" y1="448.12" x2="592.9" y2="448.12" stroke="#222" stroke-width="0.8"/>
<line x1="589.3" y1="456.88" x2="592.9" y2="456.88" stroke="#222" stroke-width="0.8"/>
<line x1="598.15" y1="447.62" x2="598.15" y2="456.38" stroke="#222" stroke-width="0.8"/>
<line x1="596.35" y1="447.62" x2="599.95" y2="447.62" stroke="#222" stroke-width="0.8"/>
<line x1="596.35" y1="456.38" x2="599.95" y2="456.38" stroke="#222" stroke-width="0.8"/>
<line x1="605.2" y1="447.62" x2="605.2" y2="456.38" stroke="#222" stroke-width="0.8"/>
<line x1="603.4" y1="447.62" x2="607" y2="447.62" stroke="#222" stroke-width="0.8"/>
<line x1="603.4" y1="456.38" x2="607" y2="456.38" stroke="#222" stroke-width="0.8"/>
<line x1="612.25" y1="448.12" x2="612.25" y2="456.88" stroke="#222" stroke-width="0.8"/>
<line x1="610.45" y1="448.12" x2="614.05" y2="448.12" stroke="#222" stroke-width="0.8"/>
<line x1="610.45" y1="456.88" x2="614.05" y2="456.88" stroke="#222" stroke-width="0.8"/>
<line x1="619.3" y1="449.12" x2="619.3" y2="457.88" stroke="#222" stroke-width="0.8"/>
<line x1="617.5" y1="449.12" x2="621.1" y2="449.12" stroke="#222" stroke-width="0.8"/>
<line x1="617.5" y1="457.88" x2="621.1" y2="457.88" stroke="#222" stroke-width="0.8"/>
<line x1="626.35" y1="450.12" x2="626.35" y2="458.88" stroke="#222" stroke-width="0.8"/>
<line x1="624.55" y1="450.12" x2="628.15" y2="450.12" stroke="#222" stroke-width="0.8"/>
<line x1="624.55" y1="458.88" x2="628.15" y2="458.88" stroke="#222" stroke-width="0.8"/>
<polyline points="464.2,533.25 471.25,533.25 478.3,531.88 485.35,528.75 492.4,521.62 499.45,511.25 506.5,497.5 513.55,483.12 520.6,474.88 527.65,466.25 534.7,460.75 541.75,457.12 548.8,455.75 555.85,454.88 562.9,454.5 569.95,453.88 577,453.5 584.05,453.5 591.1,452.5 598.15,452 605.2,452 612.25,452.5 619.3,453.5 626.35,454.5" fill="none" stroke="#111" stroke-width="0.8" stroke-linejoin="round"/>
<circle cx="464.2" cy="533.5" r="1.7" fill="#8a8a8a" stroke="#8a8a8a" stroke-width="0.3"/>
<circle cx="471.25" cy="533.5" r="1.7" fill="#8a8a8a" stroke="#8a8a8a" stroke-width="0.3"/>
<circle cx="478.3" cy="532.88" r="1.7" fill="#8a8a8a" stroke="#8a8a8a" stroke-width="0.3"/>
<circle cx="485.35" cy="531.25" r="1.7" fill="#8a8a8a" stroke="#8a8a8a" stroke-width="0.3"/>
<circle cx="492.4" cy="527.62" r="1.7" fill="#8a8a8a" stroke="#8a8a8a" stroke-width="0.3"/>
<circle cx="499.45" cy="519.5" r="1.7" fill="#8a8a8a" stroke="#8a8a8a" stroke-width="0.3"/>
<circle cx="506.5" cy="506.75" r="1.7" fill="#8a8a8a" stroke="#8a8a8a" stroke-width="0.3"/>
<circle cx="513.55" cy="487.12" r="1.7" fill="#8a8a8a" stroke="#8a8a8a" stroke-width="0.3"/>
<circle cx="520.6" cy="476.12" r="1.7" fill="#8a8a8a" stroke="#8a8a8a" stroke-width="0.3"/>
<circle cx="527.65" cy="461.5" r="1.7" fill="#8a8a8a" stroke="#8a8a8a" stroke-width="0.3"/>
<circle cx="534.7" cy="455.38" r="1.7" fill="#8a8a8a" stroke="#8a8a8a" stroke-width="0.3"/>
<circle cx="541.75" cy="449.75" r="1.7" fill="#8a8a8a" stroke="#8a8a8a" stroke-width="0.3"/>
<circle cx="548.8" cy="446.25" r="1.7" fill="#8a8a8a" stroke="#8a8a8a" stroke-width="0.3"/>
<circle cx="555.85" cy="443.25" r="1.7" fill="#8a8a8a" stroke="#8a8a8a" stroke-width="0.3"/>
<circle cx="562.9" cy="439.88" r="1.7" fill="#8a8a8a" stroke="#8a8a8a" stroke-width="0.3"/>
<circle cx="569.95" cy="437.38" r="1.7" fill="#8a8a8a" stroke="#8a8a8a" stroke-width="0.3"/>
<circle cx="577" cy="434.88" r="1.7" fill="#8a8a8a" stroke="#8a8a8a" stroke-width="0.3"/>
<circle cx="584.05" cy="433.5" r="1.7" fill="#8a8a8a" stroke="#8a8a8a" stroke-width="0.3"/>
<circle cx="591.1" cy="431.62" r="1.7" fill="#8a8a8a" stroke="#8a8a8a" stroke-width="0.3"/>
<circle cx="598.15" cy="430.12" r="1.7" fill="#8a8a8a" stroke="#8a8a8a" stroke-width="0.3"/>
<circle cx="605.2" cy="428.75" r="1.7" fill="#8a8a8a" stroke="#8a8a8a" stroke-width="0.3"/>
<circle cx="612.25" cy="427.25" r="1.7" fill="#8a8a8a" stroke="#8a8a8a" stroke-width="0.3"/>
<circle cx="619.3" cy="425.75" r="1.7" fill="#8a8a8a" stroke="#8a8a8a" stroke-width="0.3"/>
<circle cx="626.35" cy="424.38" r="1.7" fill="#8a8a8a" stroke="#8a8a8a" stroke-width="0.3"/>
<rect x="462.6" y="531.9" width="3.2" height="3.2" fill="#b7d96f"/>
<rect x="469.65" y="531.9" width="3.2" height="3.2" fill="#b7d96f"/>
<rect x="476.7" y="530.9" width="3.2" height="3.2" fill="#b7d96f"/>
<rect x="483.75" y="528.4" width="3.2" height="3.2" fill="#b7d96f"/>
<rect x="490.8" y="523.15" width="3.2" height="3.2" fill="#b7d96f"/>
<rect x="497.85" y="513.15" width="3.2" height="3.2" fill="#b7d96f"/>
<rect x="504.9" y="499.4" width="3.2" height="3.2" fill="#b7d96f"/>
<rect x="511.95" y="478.15" width="3.2" height="3.2" fill="#b7d96f"/>
<rect x="519" y="464.65" width="3.2" height="3.2" fill="#b7d96f"/>
<rect x="526.05" y="457.02" width="3.2" height="3.2" fill="#b7d96f"/>
<rect x="533.1" y="452.9" width="3.2" height="3.2" fill="#b7d96f"/>
<rect x="540.15" y="448.15" width="3.2" height="3.2" fill="#b7d96f"/>
<rect x="547.2" y="445.27" width="3.2" height="3.2" fill="#b7d96f"/>
<rect x="554.25" y="443.15" width="3.2" height="3.2" fill="#b7d96f"/>
<rect x="561.3" y="441.15" width="3.2" height="3.2" fill="#b7d96f"/>
<rect x="568.35" y="440.15" width="3.2" height="3.2" fill="#b7d96f"/>
<rect x="575.4" y="438.65" width="3.2" height="3.2" fill="#b7d96f"/>
<rect x="582.45" y="438.27" width="3.2" height="3.2" fill="#b7d96f"/>
<rect x="589.5" y="436.9" width="3.2" height="3.2" fill="#b7d96f"/>
<rect x="596.55" y="434.4" width="3.2" height="3.2" fill="#b7d96f"/>
<rect x="603.6" y="432.9" width="3.2" height="3.2" fill="#b7d96f"/>
<rect x="610.65" y="431.9" width="3.2" height="3.2" fill="#b7d96f"/>
<rect x="617.7" y="430.65" width="3.2" height="3.2" fill="#b7d96f"/>
<rect x="624.75" y="430.02" width="3.2" height="3.2" fill="#b7d96f"/>
<circle cx="464.2" cy="533.25" r="2" fill="#111" stroke="#111" stroke-width="0.3"/>
<circle cx="471.25" cy="533.25" r="2" fill="#111" stroke="#111" stroke-width="0.3"/>
<circle cx="478.3" cy="531.88" r="2" fill="#111" stroke="#111" stroke-width="0.3"/>
<circle cx="485.35" cy="528.75" r="2" fill="#111" stroke="#111" stroke-width="0.3"/>
<circle cx="492.4" cy="521.62" r="2" fill="#111" stroke="#111" stroke-width="0.3"/>
<circle cx="499.45" cy="511.25" r="2" fill="#111" stroke="#111" stroke-width="0.3"/>
<circle cx="506.5" cy="497.5" r="2" fill="#111" stroke="#111" stroke-width="0.3"/>
<circle cx="513.55" cy="483.12" r="2" fill="#111" stroke="#111" stroke-width="0.3"/>
<circle cx="520.6" cy="474.88" r="2" fill="#111" stroke="#111" stroke-width="0.3"/>
<circle cx="527.65" cy="466.25" r="2" fill="#111" stroke="#111" stroke-width="0.3"/>
<circle cx="534.7" cy="460.75" r="2" fill="#111" stroke="#111" stroke-width="0.3"/>
<circle cx="541.75" cy="457.12" r="2" fill="#111" stroke="#111" stroke-width="0.3"/>
<circle cx="548.8" cy="455.75" r="2" fill="#111" stroke="#111" stroke-width="0.3"/>
<circle cx="555.85" cy="454.88" r="2" fill="#111" stroke="#111" stroke-width="0.3"/>
<circle cx="562.9" cy="454.5" r="2" fill="#111" stroke="#111" stroke-width="0.3"/>
<circle cx="569.95" cy="453.88" r="2" fill="#111" stroke="#111" stroke-width="0.3"/>
<circle cx="577" cy="453.5" r="2" fill="#111" stroke="#111" stroke-width="0.3"/>
<circle cx="584.05" cy="453.5" r="2" fill="#111" stroke="#111" stroke-width="0.3"/>
<circle cx="591.1" cy="452.5" r="2" fill="#111" stroke="#111" stroke-width="0.3"/>
<circle cx="598.15" cy="452" r="2" fill="#111" stroke="#111" stroke-width="0.3"/>
<circle cx="605.2" cy="452" r="2" fill="#111" stroke="#111" stroke-width="0.3"/>
<circle cx="612.25" cy="452.5" r="2" fill="#111" stroke="#111" stroke-width="0.3"/>
<circle cx="619.3" cy="453.5" r="2" fill="#111" stroke="#111" stroke-width="0.3"/>
<circle cx="626.35" cy="454.5" r="2" fill="#111" stroke="#111" stroke-width="0.3"/>
<line x1="538.4" y1="499.6" x2="547.6" y2="499.6" stroke="#777" stroke-width="0.8"/>
<circle cx="543" cy="499.6" r="1.5" fill="#111" stroke="#111" stroke-width="0.2"/>
<text x="550" y="502.7" font-size="8.7" fill="#1a1a1a">WT</text>
<line x1="538.4" y1="513.2" x2="547.6" y2="513.2" stroke="#aaa" stroke-width="0.8"/>
<circle cx="543" cy="513.2" r="1.5" fill="#888" stroke="#888" stroke-width="0.2"/>
<text x="550" y="516.3" font-size="8.7" fill="#1a1a1a">TC</text>
<line x1="538.4" y1="526.8" x2="547.6" y2="526.8" stroke="#bfdc85" stroke-width="0.8"/>
<circle cx="543" cy="526.8" r="1.5" fill="#b7d96f" stroke="#b7d96f" stroke-width="0.2"/>
<text x="550" y="529.9" font-size="8.7" fill="#1a1a1a">WT+p<tspan font-style="italic">mcr-1</tspan>+p<tspan font-style="italic">ecaR</tspan></text>
<line x1="632.7" y1="432.4" x2="632.7" y2="454.7" stroke="#222" stroke-width="0.9"/>
<line x1="631.2" y1="432.4" x2="632.7" y2="432.4" stroke="#222" stroke-width="0.9"/>
<line x1="631.2" y1="454.7" x2="632.7" y2="454.7" stroke="#222" stroke-width="0.9"/>
<line x1="640.9" y1="423.4" x2="640.9" y2="454.4" stroke="#8a8a8a" stroke-width="1.2"/>
<line x1="640" y1="423.4" x2="640.9" y2="423.4" stroke="#333" stroke-width="1"/>
<line x1="640" y1="454.4" x2="640.9" y2="454.4" stroke="#333" stroke-width="1"/>
<rect x="635.25" y="441.15" width="1.7" height="1.7" fill="#333"/>
<rect x="635.25" y="444.25" width="1.7" height="1.7" fill="#333"/>
<rect x="644.25" y="437.65" width="1.7" height="1.7" fill="#333"/>
<rect x="644.25" y="440.55" width="1.7" height="1.7" fill="#333"/>
<text x="0.7" y="573.2" font-size="16.4" font-weight="bold" fill="#000">g</text>
<rect x="58.7" y="743.25" width="17.4" height="8.25" fill="#000000"/>
<rect x="84.8" y="685.54" width="17.4" height="65.96" fill="#ff7b7b"/>
<rect x="110.8" y="743.25" width="17.4" height="8.25" fill="#8fbff8"/>
<rect x="136.9" y="619.58" width="17.4" height="131.92" fill="#c2d57c"/>
<rect x="163" y="619.58" width="17.4" height="131.92" fill="#7f7f7f"/>
<circle cx="61.5" cy="743.25" r="2.3" fill="#fff" stroke="#000" stroke-width="0.9"/>
<circle cx="67.4" cy="743.25" r="2.3" fill="#fff" stroke="#000" stroke-width="0.9"/>
<circle cx="73.3" cy="743.25" r="2.3" fill="#fff" stroke="#000" stroke-width="0.9"/>
<circle cx="87.6" cy="685.54" r="2.3" fill="#fff" stroke="#000" stroke-width="0.9"/>
<circle cx="93.5" cy="685.54" r="2.3" fill="#fff" stroke="#000" stroke-width="0.9"/>
<circle cx="99.4" cy="685.54" r="2.3" fill="#fff" stroke="#000" stroke-width="0.9"/>
<circle cx="113.6" cy="743.25" r="2.3" fill="#fff" stroke="#000" stroke-width="0.9"/>
<circle cx="119.5" cy="743.25" r="2.3" fill="#fff" stroke="#000" stroke-width="0.9"/>
<circle cx="125.4" cy="743.25" r="2.3" fill="#fff" stroke="#000" stroke-width="0.9"/>
<circle cx="139.7" cy="619.58" r="2.3" fill="#fff" stroke="#000" stroke-width="0.9"/>
<circle cx="145.6" cy="619.58" r="2.3" fill="#fff" stroke="#000" stroke-width="0.9"/>
<circle cx="151.5" cy="619.58" r="2.3" fill="#fff" stroke="#000" stroke-width="0.9"/>
<circle cx="165.8" cy="619.58" r="2.3" fill="#fff" stroke="#000" stroke-width="0.9"/>
<circle cx="171.7" cy="619.58" r="2.3" fill="#fff" stroke="#000" stroke-width="0.9"/>
<circle cx="177.6" cy="619.58" r="2.3" fill="#fff" stroke="#000" stroke-width="0.9"/>
<line x1="49.5" y1="586.6" x2="190" y2="586.6" stroke="#333333" stroke-width="1.1"/>
<line x1="189.5" y1="586.6" x2="189.5" y2="751.5" stroke="#333333" stroke-width="1"/>
<line x1="50" y1="586.1" x2="50" y2="752" stroke="#333333" stroke-width="1"/>
<line x1="49.5" y1="751.5" x2="190" y2="751.5" stroke="#333333" stroke-width="1.1"/>
<line x1="43.7" y1="751.5" x2="50" y2="751.5" stroke="#333333" stroke-width="1"/>
<text x="42.9" y="754.9" font-size="9.2" text-anchor="end" fill="#1a1a1a">0</text>
<line x1="43.7" y1="718.52" x2="50" y2="718.52" stroke="#333333" stroke-width="1"/>
<text x="42.9" y="721.92" font-size="9.2" text-anchor="end" fill="#1a1a1a">0.5</text>
<line x1="43.7" y1="685.54" x2="50" y2="685.54" stroke="#333333" stroke-width="1"/>
<text x="42.9" y="688.94" font-size="9.2" text-anchor="end" fill="#1a1a1a">1.0</text>
<line x1="43.7" y1="652.56" x2="50" y2="652.56" stroke="#333333" stroke-width="1"/>
<text x="42.9" y="655.96" font-size="9.2" text-anchor="end" fill="#1a1a1a">1.5</text>
<line x1="43.7" y1="619.58" x2="50" y2="619.58" stroke="#333333" stroke-width="1"/>
<text x="42.9" y="622.98" font-size="9.2" text-anchor="end" fill="#1a1a1a">2.0</text>
<line x1="43.7" y1="586.6" x2="50" y2="586.6" stroke="#333333" stroke-width="1"/>
<text x="42.9" y="590" font-size="9.2" text-anchor="end" fill="#1a1a1a">2.5</text>
<text x="24" y="667.6" font-size="9.5" text-anchor="middle" fill="#1a1a1a" transform="rotate(-90 24 667.6)" textLength="82.5" lengthAdjust="spacingAndGlyphs">Colistin MIC (&#956;g/mL)</text>
<rect x="51.2" y="590.6" width="8.8" height="4.4" fill="#000000"/>
<text x="61.8" y="595.4" font-size="8.4" fill="#1a1a1a">WT</text>
<rect x="51.2" y="601.82" width="8.8" height="4.4" fill="#ff7b7b"/>
<text x="61.8" y="606.62" font-size="8.4" fill="#1a1a1a">WT+p<tspan font-style="italic">mcr-1</tspan></text>
<rect x="51.2" y="613.04" width="8.8" height="4.4" fill="#8fbff8"/>
<text x="61.8" y="617.84" font-size="8.4" fill="#1a1a1a">WT+p<tspan font-style="italic">ecaR</tspan></text>
<rect x="51.2" y="624.26" width="8.8" height="4.4" fill="#c2d57c"/>
<text x="61.8" y="629.06" font-size="8.4" fill="#1a1a1a">WT+p<tspan font-style="italic">mcr-1</tspan>+p<tspan font-style="italic">ecaR</tspan></text>
<rect x="51.2" y="635.48" width="8.8" height="4.4" fill="#7f7f7f"/>
<text x="61.8" y="640.28" font-size="8.4" fill="#1a1a1a">TC</text>
<text x="221.1" y="576.6" font-size="16.4" font-weight="bold" fill="#000">h</text>
<rect x="264.6" y="741.34" width="15" height="8.16" fill="#000000"/>
<rect x="287.3" y="733.17" width="15" height="16.33" fill="#ff7b7b"/>
<rect x="310.2" y="716.84" width="15" height="32.66" fill="#c2d57c"/>
<rect x="333.3" y="651.52" width="15" height="97.98" fill="#7f7f7f"/>
<circle cx="267.1" cy="741.34" r="2.3" fill="#fff" stroke="#000" stroke-width="0.9"/>
<circle cx="272.1" cy="741.34" r="2.3" fill="#fff" stroke="#000" stroke-width="0.9"/>
<circle cx="277.1" cy="741.34" r="2.3" fill="#fff" stroke="#000" stroke-width="0.9"/>
<circle cx="289.8" cy="733.17" r="2.3" fill="#fff" stroke="#000" stroke-width="0.9"/>
<circle cx="294.8" cy="733.17" r="2.3" fill="#fff" stroke="#000" stroke-width="0.9"/>
<circle cx="299.8" cy="733.17" r="2.3" fill="#fff" stroke="#000" stroke-width="0.9"/>
<circle cx="312.7" cy="716.84" r="2.3" fill="#fff" stroke="#000" stroke-width="0.9"/>
<circle cx="317.7" cy="716.84" r="2.3" fill="#fff" stroke="#000" stroke-width="0.9"/>
<circle cx="322.7" cy="716.84" r="2.3" fill="#fff" stroke="#000" stroke-width="0.9"/>
<circle cx="335.8" cy="651.52" r="2.3" fill="#fff" stroke="#000" stroke-width="0.9"/>
<circle cx="340.8" cy="651.52" r="2.3" fill="#fff" stroke="#000" stroke-width="0.9"/>
<circle cx="345.8" cy="651.52" r="2.3" fill="#fff" stroke="#000" stroke-width="0.9"/>
<rect x="363.7" y="742.64" width="15" height="6.86" fill="#000000"/>
<rect x="386.3" y="718.15" width="15" height="31.35" fill="#f38883"/>
<rect x="405.5" y="629.96" width="15" height="119.54" fill="#c2d57c"/>
<rect x="428.2" y="618.86" width="15" height="130.64" fill="#7f7f7f"/>
<line x1="371.2" y1="742.64" x2="371.2" y2="738.4" stroke="#000000" stroke-width="1"/>
<line x1="367.2" y1="738.4" x2="375.2" y2="738.4" stroke="#000000" stroke-width="1"/>
<line x1="393.8" y1="718.15" x2="393.8" y2="688.43" stroke="#ff7b7b" stroke-width="1"/>
<line x1="389.8" y1="688.43" x2="397.8" y2="688.43" stroke="#ff7b7b" stroke-width="1"/>
<line x1="413" y1="629.96" x2="413" y2="610.7" stroke="#c2d57c" stroke-width="1"/>
<line x1="409" y1="610.7" x2="417" y2="610.7" stroke="#c2d57c" stroke-width="1"/>
<circle cx="365.7" cy="745.25" r="2.3" fill="#fff" stroke="#000" stroke-width="0.9"/>
<circle cx="371.1" cy="736.44" r="2.3" fill="#fff" stroke="#000" stroke-width="0.9"/>
<circle cx="376" cy="745.25" r="2.3" fill="#fff" stroke="#000" stroke-width="0.9"/>
<circle cx="389" cy="737.09" r="2.3" fill="#fff" stroke="#000" stroke-width="0.9"/>
<circle cx="393.8" cy="684.18" r="2.3" fill="#fff" stroke="#000" stroke-width="0.9"/>
<circle cx="398.9" cy="732.84" r="2.3" fill="#fff" stroke="#000" stroke-width="0.9"/>
<circle cx="408.2" cy="618.86" r="2.3" fill="#fff" stroke="#000" stroke-width="0.9"/>
<circle cx="413.1" cy="651.52" r="2.3" fill="#fff" stroke="#000" stroke-width="0.9"/>
<circle cx="417.9" cy="618.86" r="2.3" fill="#fff" stroke="#000" stroke-width="0.9"/>
<circle cx="430.9" cy="618.86" r="2.3" fill="#fff" stroke="#000" stroke-width="0.9"/>
<circle cx="435.8" cy="618.86" r="2.3" fill="#fff" stroke="#000" stroke-width="0.9"/>
<circle cx="441" cy="618.86" r="2.3" fill="#fff" stroke="#000" stroke-width="0.9"/>
<rect x="458.6" y="741.66" width="15" height="7.84" fill="#000000"/>
<rect x="481.8" y="695.06" width="15" height="54.44" fill="#ff7b7b"/>
<rect x="504.1" y="673.3" width="15" height="76.2" fill="#c2d57c"/>
<rect x="527.3" y="673.3" width="15" height="76.2" fill="#7f7f7f"/>
<line x1="489.3" y1="695.06" x2="489.3" y2="686.79" stroke="#ff7b7b" stroke-width="1"/>
<line x1="485.3" y1="686.79" x2="493.3" y2="686.79" stroke="#ff7b7b" stroke-width="1"/>
<line x1="511.6" y1="673.3" x2="511.6" y2="654.13" stroke="#c2d57c" stroke-width="1"/>
<line x1="507.6" y1="654.13" x2="515.6" y2="654.13" stroke="#c2d57c" stroke-width="1"/>
<line x1="534.8" y1="673.3" x2="534.8" y2="654.13" stroke="#7f7f7f" stroke-width="1"/>
<line x1="530.8" y1="654.13" x2="538.8" y2="654.13" stroke="#7f7f7f" stroke-width="1"/>
<circle cx="460.8" cy="741.01" r="2.3" fill="#fff" stroke="#000" stroke-width="0.9"/>
<circle cx="466" cy="737.42" r="2.3" fill="#fff" stroke="#000" stroke-width="0.9"/>
<circle cx="471.4" cy="741.01" r="2.3" fill="#fff" stroke="#000" stroke-width="0.9"/>
<circle cx="483.7" cy="700.51" r="2.3" fill="#fff" stroke="#000" stroke-width="0.9"/>
<circle cx="489.3" cy="684.18" r="2.3" fill="#fff" stroke="#000" stroke-width="0.9"/>
<circle cx="494.1" cy="700.51" r="2.3" fill="#fff" stroke="#000" stroke-width="0.9"/>
<circle cx="507.1" cy="684.18" r="2.3" fill="#fff" stroke="#000" stroke-width="0.9"/>
<circle cx="511.5" cy="651.52" r="2.3" fill="#fff" stroke="#000" stroke-width="0.9"/>
<circle cx="516.9" cy="684.18" r="2.3" fill="#fff" stroke="#000" stroke-width="0.9"/>
<circle cx="530.3" cy="684.18" r="2.3" fill="#fff" stroke="#000" stroke-width="0.9"/>
<circle cx="534.7" cy="651.52" r="2.3" fill="#fff" stroke="#000" stroke-width="0.9"/>
<circle cx="540.1" cy="684.18" r="2.3" fill="#fff" stroke="#000" stroke-width="0.9"/>
<line x1="356.5" y1="587.7" x2="356.5" y2="749.5" stroke="#777" stroke-width="0.7" stroke-dasharray="0.8 0.8"/>
<line x1="451.1" y1="587.7" x2="451.1" y2="749.5" stroke="#777" stroke-width="0.7" stroke-dasharray="0.8 0.8"/>
<line x1="261" y1="586.2" x2="547" y2="586.2" stroke="#333333" stroke-width="1.1"/>
<line x1="546.5" y1="586.2" x2="546.5" y2="749.5" stroke="#333333" stroke-width="1"/>
<line x1="261.5" y1="585.7" x2="261.5" y2="750" stroke="#333333" stroke-width="1"/>
<line x1="261" y1="749.5" x2="547" y2="749.5" stroke="#333333" stroke-width="1.1"/>
<line x1="255.2" y1="749.5" x2="261.5" y2="749.5" stroke="#333333" stroke-width="1"/>
<text x="252.9" y="752.8" font-size="8.9" text-anchor="end" fill="#1a1a1a">0</text>
<line x1="255.2" y1="716.84" x2="261.5" y2="716.84" stroke="#333333" stroke-width="1"/>
<text x="252.9" y="720.14" font-size="8.9" text-anchor="end" fill="#1a1a1a">1</text>
<line x1="255.2" y1="684.18" x2="261.5" y2="684.18" stroke="#333333" stroke-width="1"/>
<text x="252.9" y="687.48" font-size="8.9" text-anchor="end" fill="#1a1a1a">2</text>
<line x1="255.2" y1="651.52" x2="261.5" y2="651.52" stroke="#333333" stroke-width="1"/>
<text x="252.9" y="654.82" font-size="8.9" text-anchor="end" fill="#1a1a1a">3</text>
<line x1="255.2" y1="618.86" x2="261.5" y2="618.86" stroke="#333333" stroke-width="1"/>
<text x="252.9" y="622.16" font-size="8.9" text-anchor="end" fill="#1a1a1a">4</text>
<line x1="255.2" y1="586.2" x2="261.5" y2="586.2" stroke="#333333" stroke-width="1"/>
<text x="252.9" y="589.5" font-size="8.9" text-anchor="end" fill="#1a1a1a">5</text>
<text x="240" y="666.9" font-size="9.5" text-anchor="middle" fill="#1a1a1a" transform="rotate(-90 240 666.9)" textLength="82.5" lengthAdjust="spacingAndGlyphs">Colistin MIC (&#956;g/mL)</text>
<text x="308.1" y="582.4" font-size="8.8" text-anchor="middle" fill="#1a1a1a"><tspan font-style="italic">E. coli</tspan> E17</text>
<text x="403" y="582.4" font-size="8.8" text-anchor="middle" fill="#1a1a1a"><tspan font-style="italic">E. coli</tspan> E18</text>
<text x="499.7" y="582.4" font-size="8.8" text-anchor="middle" fill="#1a1a1a"><tspan font-style="italic">E. coli</tspan> E20</text>
<rect x="552.8" y="586.8" width="12.2" height="5" fill="#000000"/>
<text x="567.9" y="592.4" font-size="8.9" fill="#1a1a1a">WT</text>
<rect x="552.8" y="602.13" width="12.2" height="5" fill="#ff7b7b"/>
<text x="567.9" y="607.73" font-size="8.9" fill="#1a1a1a">WT+p<tspan font-style="italic">mcr-1</tspan></text>
<rect x="552.8" y="617.46" width="12.2" height="5" fill="#c2d57c"/>
<text x="567.9" y="623.06" font-size="8.9" fill="#1a1a1a">WT+p<tspan font-style="italic">mcr-1</tspan>+p<tspan font-style="italic">ecaR</tspan></text>
<rect x="552.8" y="632.79" width="12.2" height="5" fill="#7f7f7f"/>
<text x="567.9" y="638.39" font-size="8.9" fill="#1a1a1a">TC</text>
</svg>
</body></html>
